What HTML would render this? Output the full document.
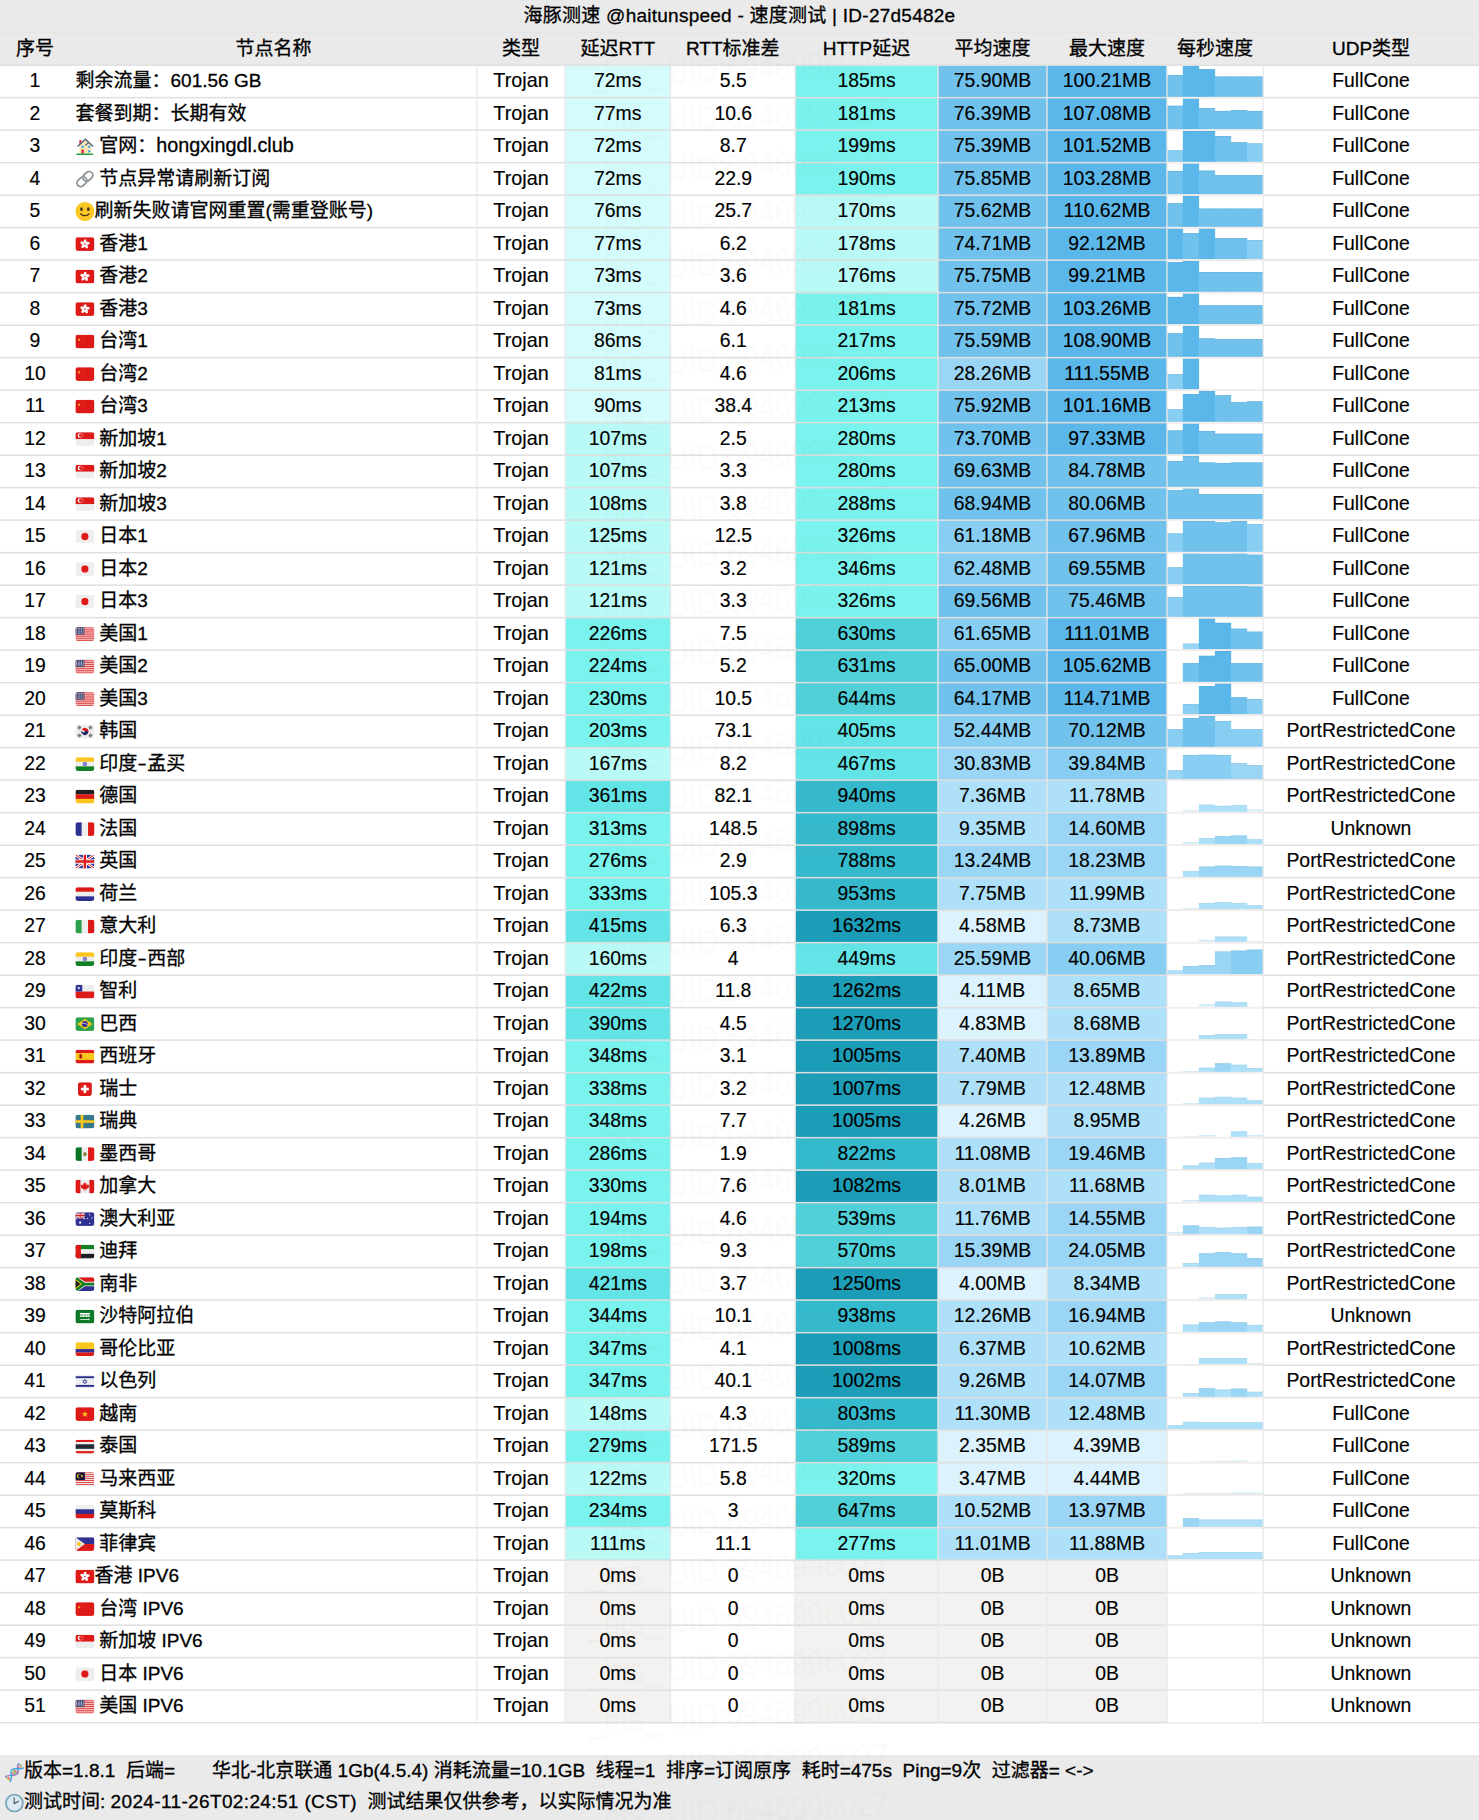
<!DOCTYPE html>
<html lang="zh-CN"><head><meta charset="utf-8"><title>海豚测速</title>
<style>
html,body{margin:0;padding:0;background:#fff;}
body{width:1479px;height:1820px;position:relative;overflow:hidden;font-family:"Liberation Sans","Noto Sans CJK SC",sans-serif;font-size:19px;color:#000;}
#bg{position:absolute;left:0;top:0;width:1479px;height:1820px;}
.r{position:absolute;left:0;width:1479px;height:32.5px;line-height:29.7px;white-space:nowrap;-webkit-text-stroke:0.3px #000;}
.r span{position:absolute;top:0;height:32.5px;text-align:center;}
.hd{line-height:31px}
.hy{font-style:normal;display:inline-block;width:10px;text-align:center;transform:scaleX(1.45)}
.la{font-style:normal;font-size:19.8px}
.l{font-size:20.2px;transform:scaleX(.96);line-height:30.9px;-webkit-text-stroke:0.16px #000}
.c2.l{transform:scaleX(.98)}
.c0{left:0;width:70px}.c1{left:75.5px;text-align:left!important;line-height:31.5px}.c1i{left:99.2px;text-align:left!important;line-height:31.5px}.c1s{left:94.5px;text-align:left!important;line-height:31.5px}
.c2{left:477px;width:88px}.c3{left:565px;width:105.5px}.c4{left:670.5px;width:124.5px}.c5{left:795px;width:143px}
.c6{left:938px;width:109px}.c7{left:1047px;width:120px}.c8{left:1167px;width:96px}.c9{left:1263px;width:216px}
.h1{left:70px;width:407px}
.t{position:absolute;left:0;top:0;width:1479px;height:32.5px;line-height:31px;text-align:center;white-space:nowrap;letter-spacing:.25px;-webkit-text-stroke:0.3px #000;}
.ft{position:absolute;left:24px;height:32.5px;line-height:31px;white-space:pre;-webkit-text-stroke:0.3px #000;}
.wm{position:absolute;left:588px;width:300px;height:40px;line-height:40px;font-size:34px;white-space:nowrap;transform-origin:0 50%;transform:rotate(-2.5deg) scaleX(.86);color:rgba(160,160,160,.03);-webkit-text-stroke:0.7px rgba(140,140,140,.07)}
</style></head><body>
<svg id="bg" width="1479" height="1820" viewBox="0 0 1479 1820"><defs><clipPath id="fc"><rect width="36" height="26" rx="4.6" ry="4.6"/></clipPath><symbol id="f-HK" viewBox="0 0 36 26"><g clip-path="url(#fc)"><rect width="36" height="26" fill="#DD1A17"/><g fill="#fff"><ellipse cx="18" cy="8.2" rx="2.7" ry="4.6" transform="rotate(0 18 13) rotate(18 18 8.2)"/><ellipse cx="18" cy="8.2" rx="2.7" ry="4.6" transform="rotate(72 18 13) rotate(18 18 8.2)"/><ellipse cx="18" cy="8.2" rx="2.7" ry="4.6" transform="rotate(144 18 13) rotate(18 18 8.2)"/><ellipse cx="18" cy="8.2" rx="2.7" ry="4.6" transform="rotate(216 18 13) rotate(18 18 8.2)"/><ellipse cx="18" cy="8.2" rx="2.7" ry="4.6" transform="rotate(288 18 13) rotate(18 18 8.2)"/></g><circle cx="18" cy="13" r="1.3" fill="#DD1A17"/></g></symbol><symbol id="f-CN" viewBox="0 0 36 26"><g clip-path="url(#fc)"><rect width="36" height="26" fill="#DD1A17"/><polygon fill="#FAC51C" points="7.00,6.50 7.70,8.64 9.95,8.64 8.13,9.97 8.82,12.11 7.00,10.78 5.18,12.11 5.87,9.97 4.05,8.64 6.30,8.64"/><polygon fill="#F08A50" points="12.50,3.40 12.77,4.23 13.64,4.23 12.94,4.74 13.21,5.57 12.50,5.06 11.79,5.57 12.06,4.74 11.36,4.23 12.23,4.23"/><polygon fill="#F08A50" points="15.00,6.20 15.27,7.03 16.14,7.03 15.44,7.54 15.71,8.37 15.00,7.86 14.29,8.37 14.56,7.54 13.86,7.03 14.73,7.03"/><polygon fill="#F08A50" points="15.00,9.80 15.27,10.63 16.14,10.63 15.44,11.14 15.71,11.97 15.00,11.46 14.29,11.97 14.56,11.14 13.86,10.63 14.73,10.63"/><polygon fill="#F08A50" points="12.50,12.80 12.77,13.63 13.64,13.63 12.94,14.14 13.21,14.97 12.50,14.46 11.79,14.97 12.06,14.14 11.36,13.63 12.23,13.63"/></g></symbol><symbol id="f-SG" viewBox="0 0 36 26"><g clip-path="url(#fc)"><rect width="36" height="26" fill="#EEEEEE"/><rect width="36" height="13" fill="#DD1A17"/><circle cx="9" cy="6.5" r="4.6" fill="#fff"/><circle cx="11" cy="6.5" r="4" fill="#DD1A17"/><polygon fill="#fff" points="13.00,2.50 13.25,3.26 14.05,3.26 13.40,3.73 13.65,4.49 13.00,4.02 12.35,4.49 12.60,3.73 11.95,3.26 12.75,3.26"/><polygon fill="#fff" points="10.60,4.30 10.85,5.06 11.65,5.06 11.00,5.53 11.25,6.29 10.60,5.82 9.95,6.29 10.20,5.53 9.55,5.06 10.35,5.06"/><polygon fill="#fff" points="15.40,4.30 15.65,5.06 16.45,5.06 15.80,5.53 16.05,6.29 15.40,5.82 14.75,6.29 15.00,5.53 14.35,5.06 15.15,5.06"/><polygon fill="#fff" points="11.50,7.30 11.75,8.06 12.55,8.06 11.90,8.53 12.15,9.29 11.50,8.82 10.85,9.29 11.10,8.53 10.45,8.06 11.25,8.06"/><polygon fill="#fff" points="14.50,7.30 14.75,8.06 15.55,8.06 14.90,8.53 15.15,9.29 14.50,8.82 13.85,9.29 14.10,8.53 13.45,8.06 14.25,8.06"/></g></symbol><symbol id="f-JP" viewBox="0 0 36 26"><g clip-path="url(#fc)"><rect width="36" height="26" fill="#EEEEEE"/><circle cx="18" cy="13" r="7.6" fill="#DD1A17" stroke="#fff" stroke-width="1.4"/></g></symbol><symbol id="f-US" viewBox="0 0 36 26"><g clip-path="url(#fc)"><rect width="36" height="26" fill="#F6C4C4"/><rect y="0.00" width="36" height="2" fill="#E04848"/><rect y="4.00" width="36" height="2" fill="#E04848"/><rect y="8.00" width="36" height="2" fill="#E04848"/><rect y="12.00" width="36" height="2" fill="#E04848"/><rect y="16.00" width="36" height="2" fill="#E04848"/><rect y="20.00" width="36" height="2" fill="#E04848"/><rect y="24.00" width="36" height="2" fill="#E04848"/><rect width="17" height="14" fill="#3A4070"/><circle cx="2.2" cy="2.3" r="0.95" fill="#C9CCD8"/><circle cx="5.3" cy="2.3" r="0.95" fill="#C9CCD8"/><circle cx="8.5" cy="2.3" r="0.95" fill="#C9CCD8"/><circle cx="11.6" cy="2.3" r="0.95" fill="#C9CCD8"/><circle cx="14.8" cy="2.3" r="0.95" fill="#C9CCD8"/><circle cx="2.2" cy="4.7" r="0.95" fill="#C9CCD8"/><circle cx="5.3" cy="4.7" r="0.95" fill="#C9CCD8"/><circle cx="8.5" cy="4.7" r="0.95" fill="#C9CCD8"/><circle cx="11.6" cy="4.7" r="0.95" fill="#C9CCD8"/><circle cx="14.8" cy="4.7" r="0.95" fill="#C9CCD8"/><circle cx="2.2" cy="7.0" r="0.95" fill="#C9CCD8"/><circle cx="5.3" cy="7.0" r="0.95" fill="#C9CCD8"/><circle cx="8.5" cy="7.0" r="0.95" fill="#C9CCD8"/><circle cx="11.6" cy="7.0" r="0.95" fill="#C9CCD8"/><circle cx="14.8" cy="7.0" r="0.95" fill="#C9CCD8"/><circle cx="2.2" cy="9.3" r="0.95" fill="#C9CCD8"/><circle cx="5.3" cy="9.3" r="0.95" fill="#C9CCD8"/><circle cx="8.5" cy="9.3" r="0.95" fill="#C9CCD8"/><circle cx="11.6" cy="9.3" r="0.95" fill="#C9CCD8"/><circle cx="14.8" cy="9.3" r="0.95" fill="#C9CCD8"/><circle cx="2.2" cy="11.7" r="0.95" fill="#C9CCD8"/><circle cx="5.3" cy="11.7" r="0.95" fill="#C9CCD8"/><circle cx="8.5" cy="11.7" r="0.95" fill="#C9CCD8"/><circle cx="11.6" cy="11.7" r="0.95" fill="#C9CCD8"/><circle cx="14.8" cy="11.7" r="0.95" fill="#C9CCD8"/></g></symbol><symbol id="f-KR" viewBox="0 0 36 26"><g clip-path="url(#fc)"><rect width="36" height="26" fill="#EEEEEE"/><path d="M12.4 9.3a6.7 6.7 0 0 1 11.2 7.4z" fill="#DD1A17"/><path d="M12.4 9.3a6.7 6.7 0 0 0 11.2 7.4a3.35 3.35 0 0 0-5.6-3.7a3.35 3.35 0 0 1-5.6-3.7z" fill="#1B2A5E"/><g transform="rotate(-56 7.5 5.5)" fill="#292F33"><rect x="4.5" y="2.9" width="6" height="1.2"/><rect x="4.5" y="4.9" width="6" height="1.2"/><rect x="4.5" y="6.9" width="6" height="1.2"/></g><g transform="rotate(-56 28.5 20.5)" fill="#292F33"><rect x="25.5" y="17.9" width="6" height="1.2"/><rect x="25.5" y="19.9" width="6" height="1.2"/><rect x="25.5" y="21.9" width="6" height="1.2"/></g><g transform="rotate(56 28.5 5.5)" fill="#292F33"><rect x="25.5" y="2.9" width="6" height="1.2"/><rect x="25.5" y="4.9" width="6" height="1.2"/><rect x="25.5" y="6.9" width="6" height="1.2"/></g><g transform="rotate(56 7.5 20.5)" fill="#292F33"><rect x="4.5" y="17.9" width="6" height="1.2"/><rect x="4.5" y="19.9" width="6" height="1.2"/><rect x="4.5" y="21.9" width="6" height="1.2"/></g></g></symbol><symbol id="f-IN" viewBox="0 0 36 26"><g clip-path="url(#fc)"><rect y="0.00" width="36" height="8.97" fill="#FAC51C"/><rect y="8.67" width="36" height="8.97" fill="#EEEEEE"/><rect y="17.33" width="36" height="8.97" fill="#118025"/><circle cx="18" cy="13" r="4.3" fill="#8080D0"/></g></symbol><symbol id="f-DE" viewBox="0 0 36 26"><g clip-path="url(#fc)"><rect y="0.00" width="36" height="8.97" fill="#1A2024"/><rect y="8.67" width="36" height="8.97" fill="#DD1A17"/><rect y="17.33" width="36" height="8.97" fill="#FAC51C"/></g></symbol><symbol id="f-FR" viewBox="0 0 36 26"><g clip-path="url(#fc)"><rect x="0.00" width="12.30" height="26" fill="#2E3192"/><rect x="12.00" width="12.30" height="26" fill="#EEEEEE"/><rect x="24.00" width="12.30" height="26" fill="#DD1A17"/></g></symbol><symbol id="f-GB" viewBox="0 0 36 26"><g clip-path="url(#fc)"><rect width="36" height="26" fill="#2E3192"/><path d="M0 0L36 26M36 0L0 26" stroke="#fff" stroke-width="5.2"/><path d="M0 0L36 26M36 0L0 26" stroke="#DD1A17" stroke-width="1.8"/><path d="M18 0V26M0 13H36" stroke="#fff" stroke-width="8"/><path d="M18 0V26M0 13H36" stroke="#DD1A17" stroke-width="4.6"/></g></symbol><symbol id="f-NL" viewBox="0 0 36 26"><g clip-path="url(#fc)"><rect y="0.00" width="36" height="8.97" fill="#DD1A17"/><rect y="8.67" width="36" height="8.97" fill="#EEEEEE"/><rect y="17.33" width="36" height="8.97" fill="#2E3192"/></g></symbol><symbol id="f-IT" viewBox="0 0 36 26"><g clip-path="url(#fc)"><rect x="0.00" width="12.30" height="26" fill="#2DA04B"/><rect x="12.00" width="12.30" height="26" fill="#EEEEEE"/><rect x="24.00" width="12.30" height="26" fill="#DD1A17"/></g></symbol><symbol id="f-CL" viewBox="0 0 36 26"><g clip-path="url(#fc)"><rect width="36" height="26" fill="#EEEEEE"/><rect y="13" width="36" height="13" fill="#DD1A17"/><rect width="13" height="13" fill="#2E3192"/><polygon fill="#fff" points="6.50,3.10 7.26,5.45 9.73,5.45 7.74,6.90 8.50,9.25 6.50,7.80 4.50,9.25 5.26,6.90 3.27,5.45 5.74,5.45"/></g></symbol><symbol id="f-BR" viewBox="0 0 36 26"><g clip-path="url(#fc)"><rect width="36" height="26" fill="#2DA04B"/><polygon points="18,3 32.5,13 18,23 3.5,13" fill="#FAC51C"/><circle cx="18" cy="13" r="5.6" fill="#2E3192"/><path d="M12.6 11.6Q18 10.6 23.3 14.4" stroke="#fff" stroke-width="1.2" fill="none"/></g></symbol><symbol id="f-ES" viewBox="0 0 36 26"><g clip-path="url(#fc)"><rect y="0.00" width="36" height="6.80" fill="#DD1A17"/><rect y="6.50" width="36" height="13.30" fill="#FAC51C"/><rect y="19.50" width="36" height="6.80" fill="#DD1A17"/><rect x="7.5" y="9" width="5" height="7.5" rx="1.6" fill="#AD1519"/><rect x="8.6" y="7.6" width="2.8" height="2" fill="#AD1519"/><rect x="6" y="10" width="1.2" height="6" fill="#C8B100"/><rect x="12.8" y="10" width="1.2" height="6" fill="#C8B100"/></g></symbol><symbol id="f-CH" viewBox="0 0 36 26"><rect x="5" width="26" height="26" rx="4" fill="#DD1A17"/><rect x="15.5" y="5.5" width="5" height="15" fill="#fff"/><rect x="10.5" y="10.5" width="15" height="5" fill="#fff"/></symbol><symbol id="f-SE" viewBox="0 0 36 26"><g clip-path="url(#fc)"><rect width="36" height="26" fill="#34788A"/><rect x="10" width="5" height="26" fill="#FAC51C"/><rect y="10.5" width="36" height="5" fill="#FAC51C"/></g></symbol><symbol id="f-MX" viewBox="0 0 36 26"><g clip-path="url(#fc)"><rect x="0.00" width="12.30" height="26" fill="#077521"/><rect x="12.00" width="12.30" height="26" fill="#EEEEEE"/><rect x="24.00" width="12.30" height="26" fill="#DD1A17"/><circle cx="18" cy="13" r="3.6" fill="#A6A65A"/><circle cx="18" cy="12.3" r="2.1" fill="#8C5B2F"/><path d="M14.6 15.2Q18 18.2 21.4 15.2" stroke="#5C913B" stroke-width="1.1" fill="none"/></g></symbol><symbol id="f-CA" viewBox="0 0 36 26"><g clip-path="url(#fc)"><rect width="36" height="26" fill="#EEEEEE"/><rect width="9.5" height="26" fill="#DD1A17"/><rect x="26.5" width="9.5" height="26" fill="#DD1A17"/><path fill="#DD1A17" d="M18 4.5l1.7 3.2 1.9-1 -0.9 4.6 2.4-2.5 0.5 1.4 2.7-0.5 -1.1 3.3 1.1 0.7 -4.3 3.5 0.5 1.6 -4 -0.6 v3.6 h-1 v-3.6 l-4 0.6 0.5-1.6 -4.3-3.5 1.1-0.7 -1.1-3.3 2.7 0.5 0.5-1.4 2.4 2.5 -0.9-4.6 1.9 1z"/></g></symbol><symbol id="f-AU" viewBox="0 0 36 26"><g clip-path="url(#fc)"><rect width="36" height="26" fill="#2E3192"/><g><path d="M0 0L18 13M18 0L0 13" stroke="#fff" stroke-width="2.6"/><path d="M0 0L18 13M18 0L0 13" stroke="#DD1A17" stroke-width="0.9"/><path d="M9 0V13M0 6.5H18" stroke="#fff" stroke-width="4"/><path d="M9 0V13M0 6.5H18" stroke="#DD1A17" stroke-width="2.2"/></g><polygon fill="#fff" points="9.00,16.50 9.88,18.29 11.85,18.57 10.43,19.96 10.76,21.93 9.00,21.00 7.24,21.93 7.57,19.96 6.15,18.57 8.12,18.29"/><polygon fill="#fff" points="27.00,3.30 27.50,4.31 28.62,4.47 27.81,5.26 28.00,6.38 27.00,5.85 26.00,6.38 26.19,5.26 25.38,4.47 26.50,4.31"/><polygon fill="#fff" points="31.50,8.80 32.00,9.81 33.12,9.97 32.31,10.76 32.50,11.88 31.50,11.35 30.50,11.88 30.69,10.76 29.88,9.97 31.00,9.81"/><polygon fill="#fff" points="23.00,10.30 23.50,11.31 24.62,11.47 23.81,12.26 24.00,13.38 23.00,12.85 22.00,13.38 22.19,12.26 21.38,11.47 22.50,11.31"/><polygon fill="#fff" points="27.00,19.30 27.50,20.31 28.62,20.47 27.81,21.26 28.00,22.38 27.00,21.85 26.00,22.38 26.19,21.26 25.38,20.47 26.50,20.31"/><polygon fill="#fff" points="29.50,13.60 29.70,14.22 30.36,14.22 29.83,14.61 30.03,15.23 29.50,14.84 28.97,15.23 29.17,14.61 28.64,14.22 29.30,14.22"/></g></symbol><symbol id="f-AE" viewBox="0 0 36 26"><g clip-path="url(#fc)"><rect y="0.00" width="36" height="8.97" fill="#118025"/><rect y="8.67" width="36" height="8.97" fill="#EEEEEE"/><rect y="17.33" width="36" height="8.97" fill="#1A2024"/><rect width="10.5" height="26" fill="#DD1A17"/></g></symbol><symbol id="f-ZA" viewBox="0 0 36 26"><g clip-path="url(#fc)"><rect width="36" height="26" fill="#EEEEEE"/><path d="M5 0H36V8.6H18z" fill="#DD1A17"/><path d="M5 26H36V17.4H18z" fill="#2E3192"/><path d="M0 0H3.2L17.2 10.4H36V15.6H17.2L3.2 26H0z" fill="#118025"/><path d="M0 3.3L12.4 13 0 22.7z" fill="#FAC51C"/><path d="M0 5.6L9.6 13 0 20.4z" fill="#1A2024"/></g></symbol><symbol id="f-SA" viewBox="0 0 36 26"><g clip-path="url(#fc)"><rect width="36" height="26" fill="#0A7A2A"/><g fill="#fff"><rect x="8" y="6.5" width="20" height="1.6" rx=".8"/><rect x="9" y="9.3" width="18" height="1.6" rx=".8"/><rect x="8" y="12" width="20" height="1.5" rx=".7"/><rect x="10" y="6" width="1.3" height="7"/><rect x="15" y="6" width="1.3" height="7"/><rect x="20.5" y="6" width="1.3" height="7"/><rect x="25" y="6" width="1.3" height="7"/><rect x="9" y="17.6" width="18" height="1.3" rx=".6"/><rect x="24" y="16.6" width="1.2" height="3.3"/></g></g></symbol><symbol id="f-CO" viewBox="0 0 36 26"><g clip-path="url(#fc)"><rect y="0.00" width="36" height="13.30" fill="#FAC51C"/><rect y="13.00" width="36" height="6.80" fill="#2E3192"/><rect y="19.50" width="36" height="6.80" fill="#DD1A17"/></g></symbol><symbol id="f-IL" viewBox="0 0 36 26"><g clip-path="url(#fc)"><rect width="36" height="26" fill="#EEEEEE"/><rect y="3" width="36" height="3.6" fill="#2A2E8A"/><rect y="19.4" width="36" height="3.6" fill="#2A2E8A"/><polygon points="18,8.6 21.8,15.2 14.2,15.2" fill="none" stroke="#2A2E8A" stroke-width="1"/><polygon points="18,17.4 21.8,10.8 14.2,10.8" fill="none" stroke="#2A2E8A" stroke-width="1"/></g></symbol><symbol id="f-VN" viewBox="0 0 36 26"><g clip-path="url(#fc)"><rect width="36" height="26" fill="#DD1A17"/><polygon fill="#FAC51C" points="18.00,6.80 19.48,11.36 24.28,11.36 20.40,14.18 21.88,18.74 18.00,15.92 14.12,18.74 15.60,14.18 11.72,11.36 16.52,11.36"/></g></symbol><symbol id="f-TH" viewBox="0 0 36 26"><g clip-path="url(#fc)"><rect y="0.00" width="36" height="4.63" fill="#DD1A17"/><rect y="4.33" width="36" height="4.63" fill="#EEEEEE"/><rect y="8.67" width="36" height="8.97" fill="#1F2A33"/><rect y="17.33" width="36" height="4.63" fill="#EEEEEE"/><rect y="21.67" width="36" height="4.63" fill="#DD1A17"/></g></symbol><symbol id="f-MY" viewBox="0 0 36 26"><g clip-path="url(#fc)"><rect width="36" height="26" fill="#EEEEEE"/><rect y="0.00" width="36" height="1.86" fill="#E04848"/><rect y="3.71" width="36" height="1.86" fill="#E04848"/><rect y="7.43" width="36" height="1.86" fill="#E04848"/><rect y="11.14" width="36" height="1.86" fill="#E04848"/><rect y="14.86" width="36" height="1.86" fill="#E04848"/><rect y="18.57" width="36" height="1.86" fill="#E04848"/><rect y="22.28" width="36" height="1.86" fill="#E04848"/><rect width="18" height="14.9" fill="#14143A"/><circle cx="7.3" cy="7.4" r="4.6" fill="#FAC51C"/><circle cx="8.9" cy="7.4" r="3.9" fill="#14143A"/><polygon fill="#FAC51C" points="12.40,4.30 13.22,6.27 15.35,6.44 13.73,7.83 14.22,9.91 12.40,8.79 10.58,9.91 11.07,7.83 9.45,6.44 11.58,6.27"/></g></symbol><symbol id="f-RU" viewBox="0 0 36 26"><g clip-path="url(#fc)"><rect y="0.00" width="36" height="8.97" fill="#EEEEEE"/><rect y="8.67" width="36" height="8.97" fill="#2E3192"/><rect y="17.33" width="36" height="8.97" fill="#DD1A17"/></g></symbol><symbol id="f-PH" viewBox="0 0 36 26"><g clip-path="url(#fc)"><rect width="36" height="13" fill="#2E3192"/><rect y="13" width="36" height="13" fill="#DD1A17"/><polygon points="0,0 18,13 0,26" fill="#EEEEEE"/><circle cx="6.6" cy="13" r="3.5" fill="#FAC51C"/><polygon fill="#FAC51C" points="7.00,8.40 8.49,10.95 11.37,11.58 9.41,13.78 9.70,16.72 7.00,15.53 4.30,16.72 4.59,13.78 2.63,11.58 5.51,10.95"/><polygon fill="#FAC51C" points="2.40,3.40 2.67,4.23 3.54,4.23 2.84,4.74 3.11,5.57 2.40,5.06 1.69,5.57 1.96,4.74 1.26,4.23 2.13,4.23"/><polygon fill="#FAC51C" points="2.40,20.20 2.67,21.03 3.54,21.03 2.84,21.54 3.11,22.37 2.40,21.86 1.69,22.37 1.96,21.54 1.26,21.03 2.13,21.03"/><polygon fill="#FAC51C" points="15.20,11.80 15.47,12.63 16.34,12.63 15.64,13.14 15.91,13.97 15.20,13.46 14.49,13.97 14.76,13.14 14.06,12.63 14.93,12.63"/></g></symbol><symbol id="e-house" viewBox="0 0 36 36"><rect x="7" y="14" width="24" height="18" fill="#FFE8B6"/><polygon points="19,4 7,16 31,16" fill="#FFE8B6"/><rect x="7" y="5" width="4" height="8" fill="#DD2E44"/><path d="M3.5 18L19 3.5 34.5 18" stroke="#55697A" stroke-width="3" fill="none" stroke-linejoin="miter"/><path d="M19 16L26 9.5" stroke="#55697A" stroke-width="2.5"/><rect x="11" y="16" width="5" height="5" rx="1.5" fill="#55ACEE"/><rect x="24" y="16" width="5" height="5" rx="1.5" fill="#55ACEE"/><rect x="24" y="25" width="5" height="5" rx="1.5" fill="#55ACEE"/><rect x="11" y="24" width="5" height="8" rx="1" fill="#DD2E44"/><rect x="1" y="32" width="34" height="3" rx="1.5" fill="#1E9E3E"/></symbol><symbol id="e-link" viewBox="0 0 36 36"><g transform="rotate(-42 18 18)" fill="none" stroke="#8C959B" stroke-width="3.2"><rect x="1.5" y="11.5" width="19" height="13" rx="6.5"/><rect x="15.5" y="11.5" width="19" height="13" rx="6.5"/></g></symbol><symbol id="e-smile" viewBox="0 0 36 36"><circle cx="18" cy="18" r="18" fill="#FBC825"/><ellipse cx="11.5" cy="13.5" rx="2.5" ry="3.5" fill="#4A3420"/><ellipse cx="24.5" cy="13.5" rx="2.5" ry="3.5" fill="#4A3420"/><path d="M10 22.5Q18 29 26 22.5" stroke="#4A3420" stroke-width="2.6" fill="none" stroke-linecap="round"/></symbol><symbol id="e-dna" viewBox="0 0 36 36"><g stroke-width="2.2" stroke-linecap="round"><path d="M27.5 5l4 4" stroke="#F4ABBA"/><path d="M29.5 8.5l2.5 1.5" stroke="#FFD983"/><path d="M26 8.5l3.5 3" stroke="#E8675B"/><path d="M28 4l3 2" stroke="#77B255"/><path d="M15.5 15l5.5 6" stroke="#77B255"/><path d="M18 13.5l5 5.5" stroke="#E8675B"/><path d="M13.5 18l4.5 5" stroke="#E8675B"/><path d="M13 21.5l3 3" stroke="#FFCC4D"/><path d="M3.5 28l4 4" stroke="#77B255"/><path d="M6 27l3.5 4.5" stroke="#E8675B"/><path d="M5 31l3 2.5" stroke="#FFD983"/></g><g fill="none" stroke-width="2.7" stroke-linecap="round"><path d="M26 1.2C22 6 23 9.5 24.3 13.5S25.5 21.5 18 23S6 22.5 1.2 26" stroke="#8A7BD0"/><path d="M35 9.8C30 13 22 10.2 16 11.6S10.8 16 11.5 20S13 30.5 10 34.8" stroke="#41A8E0"/></g></symbol><symbol id="e-clock" viewBox="0 0 36 36"><circle cx="18" cy="18" r="16" fill="#DCE9F2" stroke="#7DA7BC" stroke-width="3.6"/><path d="M17.6 8V19L26 14.6" stroke="#555C60" stroke-width="2.2" fill="none" stroke-linecap="round" stroke-linejoin="round"/></symbol></defs><rect width="1479" height="1820" fill="#fff"/><rect width="1479" height="65.5" fill="#EAEAEA"/><rect y="1755" width="1479" height="65" fill="#EAEAEA"/><rect x="565.5" y="65.3" width="104.7" height="31.9" fill="#D5FCFC" stroke="#C6EAEA" stroke-width=".6"/><rect x="795.5" y="65.3" width="142.2" height="31.9" fill="#7AF3EE" stroke="#71E1DD" stroke-width=".6"/><rect x="938.3" y="65.3" width="108.4" height="31.9" fill="#70C1EC" stroke="#68B3DB" stroke-width=".6"/><rect x="1047.3" y="65.3" width="119.4" height="31.9" fill="#5BB7EA" stroke="#54AAD9" stroke-width=".6"/><rect x="1166.8" y="75.02" width="16.28" height="22.08" fill="#70C1EC"/><rect x="1166.8" y="75.02" width="16.28" height=".6" fill="#68B3DB"/><rect x="1182.83" y="66" width="16.28" height="31.1" fill="#5BB7EA"/><rect x="1182.83" y="66" width="16.28" height=".6" fill="#54AAD9"/><rect x="1198.86" y="69.27" width="16.28" height="27.83" fill="#5BB7EA"/><rect x="1198.86" y="69.27" width="16.28" height=".6" fill="#54AAD9"/><rect x="1214.89" y="76.57" width="16.28" height="20.53" fill="#70C1EC"/><rect x="1214.89" y="76.57" width="16.28" height=".6" fill="#68B3DB"/><rect x="1230.92" y="76.57" width="16.28" height="20.53" fill="#70C1EC"/><rect x="1230.92" y="76.57" width="16.28" height=".6" fill="#68B3DB"/><rect x="1246.95" y="76.57" width="16.28" height="20.53" fill="#70C1EC"/><rect x="1246.95" y="76.57" width="16.28" height=".6" fill="#68B3DB"/><rect x="565.5" y="97.8" width="104.7" height="31.9" fill="#D5FCFC" stroke="#C6EAEA" stroke-width=".6"/><rect x="795.5" y="97.8" width="142.2" height="31.9" fill="#7AF3EE" stroke="#71E1DD" stroke-width=".6"/><rect x="938.3" y="97.8" width="108.4" height="31.9" fill="#70C1EC" stroke="#68B3DB" stroke-width=".6"/><rect x="1047.3" y="97.8" width="119.4" height="31.9" fill="#5BB7EA" stroke="#54AAD9" stroke-width=".6"/><rect x="1166.8" y="105.81" width="16.28" height="23.79" fill="#70C1EC"/><rect x="1166.8" y="105.81" width="16.28" height=".6" fill="#68B3DB"/><rect x="1182.83" y="98.5" width="16.28" height="31.1" fill="#5BB7EA"/><rect x="1182.83" y="98.5" width="16.28" height=".6" fill="#54AAD9"/><rect x="1198.86" y="108.14" width="16.28" height="21.46" fill="#70C1EC"/><rect x="1198.86" y="108.14" width="16.28" height=".6" fill="#68B3DB"/><rect x="1214.89" y="110.94" width="16.28" height="18.66" fill="#70C1EC"/><rect x="1214.89" y="110.94" width="16.28" height=".6" fill="#68B3DB"/><rect x="1230.92" y="110.01" width="16.28" height="19.59" fill="#70C1EC"/><rect x="1230.92" y="110.01" width="16.28" height=".6" fill="#68B3DB"/><rect x="1246.95" y="110.94" width="16.28" height="18.66" fill="#70C1EC"/><rect x="1246.95" y="110.94" width="16.28" height=".6" fill="#68B3DB"/><rect x="565.5" y="130.3" width="104.7" height="31.9" fill="#D5FCFC" stroke="#C6EAEA" stroke-width=".6"/><rect x="795.5" y="130.3" width="142.2" height="31.9" fill="#7AF3EE" stroke="#71E1DD" stroke-width=".6"/><rect x="938.3" y="130.3" width="108.4" height="31.9" fill="#70C1EC" stroke="#68B3DB" stroke-width=".6"/><rect x="1047.3" y="130.3" width="119.4" height="31.9" fill="#5BB7EA" stroke="#54AAD9" stroke-width=".6"/><rect x="1166.8" y="150.28" width="16.28" height="11.82" fill="#87CEF2"/><rect x="1166.8" y="150.28" width="16.28" height=".6" fill="#7DBFE1"/><rect x="1182.83" y="131" width="16.28" height="31.1" fill="#5BB7EA"/><rect x="1182.83" y="131" width="16.28" height=".6" fill="#54AAD9"/><rect x="1198.86" y="131" width="16.28" height="31.1" fill="#5BB7EA"/><rect x="1198.86" y="131" width="16.28" height=".6" fill="#54AAD9"/><rect x="1214.89" y="135.98" width="16.28" height="26.12" fill="#70C1EC"/><rect x="1214.89" y="135.98" width="16.28" height=".6" fill="#68B3DB"/><rect x="1230.92" y="142.2" width="16.28" height="19.9" fill="#70C1EC"/><rect x="1230.92" y="142.2" width="16.28" height=".6" fill="#68B3DB"/><rect x="1246.95" y="143.44" width="16.28" height="18.66" fill="#87CEF2"/><rect x="1246.95" y="143.44" width="16.28" height=".6" fill="#7DBFE1"/><rect x="565.5" y="162.8" width="104.7" height="31.9" fill="#D5FCFC" stroke="#C6EAEA" stroke-width=".6"/><rect x="795.5" y="162.8" width="142.2" height="31.9" fill="#7AF3EE" stroke="#71E1DD" stroke-width=".6"/><rect x="938.3" y="162.8" width="108.4" height="31.9" fill="#70C1EC" stroke="#68B3DB" stroke-width=".6"/><rect x="1047.3" y="162.8" width="119.4" height="31.9" fill="#5BB7EA" stroke="#54AAD9" stroke-width=".6"/><rect x="1166.8" y="170.96" width="16.28" height="23.64" fill="#70C1EC"/><rect x="1166.8" y="170.96" width="16.28" height=".6" fill="#68B3DB"/><rect x="1182.83" y="163.5" width="16.28" height="31.1" fill="#5BB7EA"/><rect x="1182.83" y="163.5" width="16.28" height=".6" fill="#54AAD9"/><rect x="1198.86" y="170.65" width="16.28" height="23.95" fill="#70C1EC"/><rect x="1198.86" y="170.65" width="16.28" height=".6" fill="#68B3DB"/><rect x="1214.89" y="175.1" width="16.28" height="19.5" fill="#70C1EC"/><rect x="1214.89" y="175.1" width="16.28" height=".6" fill="#68B3DB"/><rect x="1230.92" y="175.1" width="16.28" height="19.5" fill="#70C1EC"/><rect x="1230.92" y="175.1" width="16.28" height=".6" fill="#68B3DB"/><rect x="1246.95" y="175.1" width="16.28" height="19.5" fill="#70C1EC"/><rect x="1246.95" y="175.1" width="16.28" height=".6" fill="#68B3DB"/><rect x="565.5" y="195.3" width="104.7" height="31.9" fill="#D5FCFC" stroke="#C6EAEA" stroke-width=".6"/><rect x="795.5" y="195.3" width="142.2" height="31.9" fill="#B9FAF7" stroke="#ACE8E5" stroke-width=".6"/><rect x="938.3" y="195.3" width="108.4" height="31.9" fill="#70C1EC" stroke="#68B3DB" stroke-width=".6"/><rect x="1047.3" y="195.3" width="119.4" height="31.9" fill="#5BB7EA" stroke="#54AAD9" stroke-width=".6"/><rect x="1166.8" y="203.28" width="16.28" height="23.82" fill="#70C1EC"/><rect x="1166.8" y="203.28" width="16.28" height=".6" fill="#68B3DB"/><rect x="1182.83" y="196" width="16.28" height="31.1" fill="#5BB7EA"/><rect x="1182.83" y="196" width="16.28" height=".6" fill="#54AAD9"/><rect x="1198.86" y="208.63" width="16.28" height="18.47" fill="#70C1EC"/><rect x="1198.86" y="208.63" width="16.28" height=".6" fill="#68B3DB"/><rect x="1214.89" y="208.63" width="16.28" height="18.47" fill="#70C1EC"/><rect x="1214.89" y="208.63" width="16.28" height=".6" fill="#68B3DB"/><rect x="1230.92" y="208.63" width="16.28" height="18.47" fill="#70C1EC"/><rect x="1230.92" y="208.63" width="16.28" height=".6" fill="#68B3DB"/><rect x="1246.95" y="208.63" width="16.28" height="18.47" fill="#70C1EC"/><rect x="1246.95" y="208.63" width="16.28" height=".6" fill="#68B3DB"/><rect x="565.5" y="227.8" width="104.7" height="31.9" fill="#D5FCFC" stroke="#C6EAEA" stroke-width=".6"/><rect x="795.5" y="227.8" width="142.2" height="31.9" fill="#B9FAF7" stroke="#ACE8E5" stroke-width=".6"/><rect x="938.3" y="227.8" width="108.4" height="31.9" fill="#70C1EC" stroke="#68B3DB" stroke-width=".6"/><rect x="1047.3" y="227.8" width="119.4" height="31.9" fill="#5BB7EA" stroke="#54AAD9" stroke-width=".6"/><rect x="1166.8" y="228.5" width="16.28" height="31.1" fill="#5BB7EA"/><rect x="1166.8" y="228.5" width="16.28" height=".6" fill="#54AAD9"/><rect x="1182.83" y="233.17" width="16.28" height="26.44" fill="#70C1EC"/><rect x="1182.83" y="233.17" width="16.28" height=".6" fill="#68B3DB"/><rect x="1198.86" y="228.5" width="16.28" height="31.1" fill="#5BB7EA"/><rect x="1198.86" y="228.5" width="16.28" height=".6" fill="#54AAD9"/><rect x="1214.89" y="238.05" width="16.28" height="21.55" fill="#70C1EC"/><rect x="1214.89" y="238.05" width="16.28" height=".6" fill="#68B3DB"/><rect x="1230.92" y="238.05" width="16.28" height="21.55" fill="#70C1EC"/><rect x="1230.92" y="238.05" width="16.28" height=".6" fill="#68B3DB"/><rect x="1246.95" y="240.01" width="16.28" height="19.59" fill="#87CEF2"/><rect x="1246.95" y="240.01" width="16.28" height=".6" fill="#7DBFE1"/><rect x="565.5" y="260.3" width="104.7" height="31.9" fill="#D5FCFC" stroke="#C6EAEA" stroke-width=".6"/><rect x="795.5" y="260.3" width="142.2" height="31.9" fill="#B9FAF7" stroke="#ACE8E5" stroke-width=".6"/><rect x="938.3" y="260.3" width="108.4" height="31.9" fill="#70C1EC" stroke="#68B3DB" stroke-width=".6"/><rect x="1047.3" y="260.3" width="119.4" height="31.9" fill="#5BB7EA" stroke="#54AAD9" stroke-width=".6"/><rect x="1166.8" y="262.09" width="16.28" height="30.01" fill="#5BB7EA"/><rect x="1166.8" y="262.09" width="16.28" height=".6" fill="#54AAD9"/><rect x="1182.83" y="261" width="16.28" height="31.1" fill="#5BB7EA"/><rect x="1182.83" y="261" width="16.28" height=".6" fill="#54AAD9"/><rect x="1198.86" y="272.01" width="16.28" height="20.09" fill="#70C1EC"/><rect x="1198.86" y="272.01" width="16.28" height=".6" fill="#68B3DB"/><rect x="1214.89" y="272.01" width="16.28" height="20.09" fill="#70C1EC"/><rect x="1214.89" y="272.01" width="16.28" height=".6" fill="#68B3DB"/><rect x="1230.92" y="272.01" width="16.28" height="20.09" fill="#70C1EC"/><rect x="1230.92" y="272.01" width="16.28" height=".6" fill="#68B3DB"/><rect x="1246.95" y="272.01" width="16.28" height="20.09" fill="#70C1EC"/><rect x="1246.95" y="272.01" width="16.28" height=".6" fill="#68B3DB"/><rect x="565.5" y="292.8" width="104.7" height="31.9" fill="#D5FCFC" stroke="#C6EAEA" stroke-width=".6"/><rect x="795.5" y="292.8" width="142.2" height="31.9" fill="#7AF3EE" stroke="#71E1DD" stroke-width=".6"/><rect x="938.3" y="292.8" width="108.4" height="31.9" fill="#70C1EC" stroke="#68B3DB" stroke-width=".6"/><rect x="1047.3" y="292.8" width="119.4" height="31.9" fill="#5BB7EA" stroke="#54AAD9" stroke-width=".6"/><rect x="1166.8" y="296.92" width="16.28" height="27.68" fill="#5BB7EA"/><rect x="1166.8" y="296.92" width="16.28" height=".6" fill="#54AAD9"/><rect x="1182.83" y="293.5" width="16.28" height="31.1" fill="#5BB7EA"/><rect x="1182.83" y="293.5" width="16.28" height=".6" fill="#54AAD9"/><rect x="1198.86" y="305.32" width="16.28" height="19.28" fill="#70C1EC"/><rect x="1198.86" y="305.32" width="16.28" height=".6" fill="#68B3DB"/><rect x="1214.89" y="305.32" width="16.28" height="19.28" fill="#70C1EC"/><rect x="1214.89" y="305.32" width="16.28" height=".6" fill="#68B3DB"/><rect x="1230.92" y="305.32" width="16.28" height="19.28" fill="#70C1EC"/><rect x="1230.92" y="305.32" width="16.28" height=".6" fill="#68B3DB"/><rect x="1246.95" y="305.32" width="16.28" height="19.28" fill="#70C1EC"/><rect x="1246.95" y="305.32" width="16.28" height=".6" fill="#68B3DB"/><rect x="565.5" y="325.3" width="104.7" height="31.9" fill="#D5FCFC" stroke="#C6EAEA" stroke-width=".6"/><rect x="795.5" y="325.3" width="142.2" height="31.9" fill="#7AF3EE" stroke="#71E1DD" stroke-width=".6"/><rect x="938.3" y="325.3" width="108.4" height="31.9" fill="#70C1EC" stroke="#68B3DB" stroke-width=".6"/><rect x="1047.3" y="325.3" width="119.4" height="31.9" fill="#5BB7EA" stroke="#54AAD9" stroke-width=".6"/><rect x="1166.8" y="333.28" width="16.28" height="23.82" fill="#70C1EC"/><rect x="1166.8" y="333.28" width="16.28" height=".6" fill="#68B3DB"/><rect x="1182.83" y="326" width="16.28" height="31.1" fill="#5BB7EA"/><rect x="1182.83" y="326" width="16.28" height=".6" fill="#54AAD9"/><rect x="1198.86" y="338.44" width="16.28" height="18.66" fill="#70C1EC"/><rect x="1198.86" y="338.44" width="16.28" height=".6" fill="#68B3DB"/><rect x="1214.89" y="339.12" width="16.28" height="17.98" fill="#70C1EC"/><rect x="1214.89" y="339.12" width="16.28" height=".6" fill="#68B3DB"/><rect x="1230.92" y="339.12" width="16.28" height="17.98" fill="#70C1EC"/><rect x="1230.92" y="339.12" width="16.28" height=".6" fill="#68B3DB"/><rect x="1246.95" y="339.12" width="16.28" height="17.98" fill="#70C1EC"/><rect x="1246.95" y="339.12" width="16.28" height=".6" fill="#68B3DB"/><rect x="565.5" y="357.8" width="104.7" height="31.9" fill="#D5FCFC" stroke="#C6EAEA" stroke-width=".6"/><rect x="795.5" y="357.8" width="142.2" height="31.9" fill="#7AF3EE" stroke="#71E1DD" stroke-width=".6"/><rect x="938.3" y="357.8" width="108.4" height="31.9" fill="#9AD5F5" stroke="#8FC6E3" stroke-width=".6"/><rect x="1047.3" y="357.8" width="119.4" height="31.9" fill="#5BB7EA" stroke="#54AAD9" stroke-width=".6"/><rect x="1166.8" y="374.05" width="16.28" height="15.55" fill="#87CEF2"/><rect x="1166.8" y="374.05" width="16.28" height=".6" fill="#7DBFE1"/><rect x="1182.83" y="358.5" width="16.28" height="31.1" fill="#5BB7EA"/><rect x="1182.83" y="358.5" width="16.28" height=".6" fill="#54AAD9"/><rect x="565.5" y="390.3" width="104.7" height="31.9" fill="#D5FCFC" stroke="#C6EAEA" stroke-width=".6"/><rect x="795.5" y="390.3" width="142.2" height="31.9" fill="#7AF3EE" stroke="#71E1DD" stroke-width=".6"/><rect x="938.3" y="390.3" width="108.4" height="31.9" fill="#70C1EC" stroke="#68B3DB" stroke-width=".6"/><rect x="1047.3" y="390.3" width="119.4" height="31.9" fill="#5BB7EA" stroke="#54AAD9" stroke-width=".6"/><rect x="1166.8" y="409.35" width="16.28" height="12.75" fill="#87CEF2"/><rect x="1166.8" y="409.35" width="16.28" height=".6" fill="#7DBFE1"/><rect x="1182.83" y="394.11" width="16.28" height="27.99" fill="#5BB7EA"/><rect x="1182.83" y="394.11" width="16.28" height=".6" fill="#54AAD9"/><rect x="1198.86" y="391" width="16.28" height="31.1" fill="#5BB7EA"/><rect x="1198.86" y="391" width="16.28" height=".6" fill="#54AAD9"/><rect x="1214.89" y="395.35" width="16.28" height="26.75" fill="#70C1EC"/><rect x="1214.89" y="395.35" width="16.28" height=".6" fill="#68B3DB"/><rect x="1230.92" y="402.2" width="16.28" height="19.9" fill="#70C1EC"/><rect x="1230.92" y="402.2" width="16.28" height=".6" fill="#68B3DB"/><rect x="1246.95" y="401.42" width="16.28" height="20.68" fill="#70C1EC"/><rect x="1246.95" y="401.42" width="16.28" height=".6" fill="#68B3DB"/><rect x="565.5" y="422.8" width="104.7" height="31.9" fill="#B9FAF7" stroke="#ACE8E5" stroke-width=".6"/><rect x="795.5" y="422.8" width="142.2" height="31.9" fill="#7AF3EE" stroke="#71E1DD" stroke-width=".6"/><rect x="938.3" y="422.8" width="108.4" height="31.9" fill="#70C1EC" stroke="#68B3DB" stroke-width=".6"/><rect x="1047.3" y="422.8" width="119.4" height="31.9" fill="#5BB7EA" stroke="#54AAD9" stroke-width=".6"/><rect x="1166.8" y="430.47" width="16.28" height="24.13" fill="#70C1EC"/><rect x="1166.8" y="430.47" width="16.28" height=".6" fill="#68B3DB"/><rect x="1182.83" y="423.5" width="16.28" height="31.1" fill="#5BB7EA"/><rect x="1182.83" y="423.5" width="16.28" height=".6" fill="#54AAD9"/><rect x="1198.86" y="430.96" width="16.28" height="23.64" fill="#70C1EC"/><rect x="1198.86" y="430.96" width="16.28" height=".6" fill="#68B3DB"/><rect x="1214.89" y="433.76" width="16.28" height="20.84" fill="#70C1EC"/><rect x="1214.89" y="433.76" width="16.28" height=".6" fill="#68B3DB"/><rect x="1230.92" y="433.76" width="16.28" height="20.84" fill="#70C1EC"/><rect x="1230.92" y="433.76" width="16.28" height=".6" fill="#68B3DB"/><rect x="1246.95" y="433.76" width="16.28" height="20.84" fill="#70C1EC"/><rect x="1246.95" y="433.76" width="16.28" height=".6" fill="#68B3DB"/><rect x="565.5" y="455.3" width="104.7" height="31.9" fill="#B9FAF7" stroke="#ACE8E5" stroke-width=".6"/><rect x="795.5" y="455.3" width="142.2" height="31.9" fill="#7AF3EE" stroke="#71E1DD" stroke-width=".6"/><rect x="938.3" y="455.3" width="108.4" height="31.9" fill="#70C1EC" stroke="#68B3DB" stroke-width=".6"/><rect x="1047.3" y="455.3" width="119.4" height="31.9" fill="#70C1EC" stroke="#68B3DB" stroke-width=".6"/><rect x="1166.8" y="460.98" width="16.28" height="26.12" fill="#70C1EC"/><rect x="1166.8" y="460.98" width="16.28" height=".6" fill="#68B3DB"/><rect x="1182.83" y="456" width="16.28" height="31.1" fill="#70C1EC"/><rect x="1182.83" y="456" width="16.28" height=".6" fill="#68B3DB"/><rect x="1198.86" y="462.53" width="16.28" height="24.57" fill="#70C1EC"/><rect x="1198.86" y="462.53" width="16.28" height=".6" fill="#68B3DB"/><rect x="1214.89" y="462.97" width="16.28" height="24.13" fill="#70C1EC"/><rect x="1214.89" y="462.97" width="16.28" height=".6" fill="#68B3DB"/><rect x="1230.92" y="462.53" width="16.28" height="24.57" fill="#70C1EC"/><rect x="1230.92" y="462.53" width="16.28" height=".6" fill="#68B3DB"/><rect x="1246.95" y="462.53" width="16.28" height="24.57" fill="#70C1EC"/><rect x="1246.95" y="462.53" width="16.28" height=".6" fill="#68B3DB"/><rect x="565.5" y="487.8" width="104.7" height="31.9" fill="#B9FAF7" stroke="#ACE8E5" stroke-width=".6"/><rect x="795.5" y="487.8" width="142.2" height="31.9" fill="#7AF3EE" stroke="#71E1DD" stroke-width=".6"/><rect x="938.3" y="487.8" width="108.4" height="31.9" fill="#70C1EC" stroke="#68B3DB" stroke-width=".6"/><rect x="1047.3" y="487.8" width="119.4" height="31.9" fill="#70C1EC" stroke="#68B3DB" stroke-width=".6"/><rect x="1166.8" y="490.18" width="16.28" height="29.42" fill="#70C1EC"/><rect x="1166.8" y="490.18" width="16.28" height=".6" fill="#68B3DB"/><rect x="1182.83" y="488.5" width="16.28" height="31.1" fill="#70C1EC"/><rect x="1182.83" y="488.5" width="16.28" height=".6" fill="#68B3DB"/><rect x="1198.86" y="494.1" width="16.28" height="25.5" fill="#70C1EC"/><rect x="1198.86" y="494.1" width="16.28" height=".6" fill="#68B3DB"/><rect x="1214.89" y="494.1" width="16.28" height="25.5" fill="#70C1EC"/><rect x="1214.89" y="494.1" width="16.28" height=".6" fill="#68B3DB"/><rect x="1230.92" y="494.1" width="16.28" height="25.5" fill="#70C1EC"/><rect x="1230.92" y="494.1" width="16.28" height=".6" fill="#68B3DB"/><rect x="1246.95" y="494.1" width="16.28" height="25.5" fill="#70C1EC"/><rect x="1246.95" y="494.1" width="16.28" height=".6" fill="#68B3DB"/><rect x="565.5" y="520.3" width="104.7" height="31.9" fill="#B9FAF7" stroke="#ACE8E5" stroke-width=".6"/><rect x="795.5" y="520.3" width="142.2" height="31.9" fill="#7AF3EE" stroke="#71E1DD" stroke-width=".6"/><rect x="938.3" y="520.3" width="108.4" height="31.9" fill="#87CEF2" stroke="#7DBFE1" stroke-width=".6"/><rect x="1047.3" y="520.3" width="119.4" height="31.9" fill="#70C1EC" stroke="#68B3DB" stroke-width=".6"/><rect x="1166.8" y="533.44" width="16.28" height="18.66" fill="#87CEF2"/><rect x="1166.8" y="533.44" width="16.28" height=".6" fill="#7DBFE1"/><rect x="1182.83" y="521" width="16.28" height="31.1" fill="#70C1EC"/><rect x="1182.83" y="521" width="16.28" height=".6" fill="#68B3DB"/><rect x="1198.86" y="521" width="16.28" height="31.1" fill="#70C1EC"/><rect x="1198.86" y="521" width="16.28" height=".6" fill="#68B3DB"/><rect x="1214.89" y="522.34" width="16.28" height="29.76" fill="#70C1EC"/><rect x="1214.89" y="522.34" width="16.28" height=".6" fill="#68B3DB"/><rect x="1230.92" y="521" width="16.28" height="31.1" fill="#70C1EC"/><rect x="1230.92" y="521" width="16.28" height=".6" fill="#68B3DB"/><rect x="1246.95" y="524.11" width="16.28" height="27.99" fill="#87CEF2"/><rect x="1246.95" y="524.11" width="16.28" height=".6" fill="#7DBFE1"/><rect x="565.5" y="552.8" width="104.7" height="31.9" fill="#B9FAF7" stroke="#ACE8E5" stroke-width=".6"/><rect x="795.5" y="552.8" width="142.2" height="31.9" fill="#7AF3EE" stroke="#71E1DD" stroke-width=".6"/><rect x="938.3" y="552.8" width="108.4" height="31.9" fill="#87CEF2" stroke="#7DBFE1" stroke-width=".6"/><rect x="1047.3" y="552.8" width="119.4" height="31.9" fill="#70C1EC" stroke="#68B3DB" stroke-width=".6"/><rect x="1166.8" y="567.31" width="16.28" height="17.29" fill="#87CEF2"/><rect x="1166.8" y="567.31" width="16.28" height=".6" fill="#7DBFE1"/><rect x="1182.83" y="553.5" width="16.28" height="31.1" fill="#70C1EC"/><rect x="1182.83" y="553.5" width="16.28" height=".6" fill="#68B3DB"/><rect x="1198.86" y="553.81" width="16.28" height="30.79" fill="#70C1EC"/><rect x="1198.86" y="553.81" width="16.28" height=".6" fill="#68B3DB"/><rect x="1214.89" y="553.81" width="16.28" height="30.79" fill="#70C1EC"/><rect x="1214.89" y="553.81" width="16.28" height=".6" fill="#68B3DB"/><rect x="1230.92" y="553.5" width="16.28" height="31.1" fill="#70C1EC"/><rect x="1230.92" y="553.5" width="16.28" height=".6" fill="#68B3DB"/><rect x="1246.95" y="554.74" width="16.28" height="29.86" fill="#70C1EC"/><rect x="1246.95" y="554.74" width="16.28" height=".6" fill="#68B3DB"/><rect x="565.5" y="585.3" width="104.7" height="31.9" fill="#B9FAF7" stroke="#ACE8E5" stroke-width=".6"/><rect x="795.5" y="585.3" width="142.2" height="31.9" fill="#7AF3EE" stroke="#71E1DD" stroke-width=".6"/><rect x="938.3" y="585.3" width="108.4" height="31.9" fill="#70C1EC" stroke="#68B3DB" stroke-width=".6"/><rect x="1047.3" y="585.3" width="119.4" height="31.9" fill="#70C1EC" stroke="#68B3DB" stroke-width=".6"/><rect x="1166.8" y="597.2" width="16.28" height="19.9" fill="#87CEF2"/><rect x="1166.8" y="597.2" width="16.28" height=".6" fill="#7DBFE1"/><rect x="1182.83" y="586" width="16.28" height="31.1" fill="#70C1EC"/><rect x="1182.83" y="586" width="16.28" height=".6" fill="#68B3DB"/><rect x="1198.86" y="586" width="16.28" height="31.1" fill="#70C1EC"/><rect x="1198.86" y="586" width="16.28" height=".6" fill="#68B3DB"/><rect x="1214.89" y="586" width="16.28" height="31.1" fill="#70C1EC"/><rect x="1214.89" y="586" width="16.28" height=".6" fill="#68B3DB"/><rect x="1230.92" y="586" width="16.28" height="31.1" fill="#70C1EC"/><rect x="1230.92" y="586" width="16.28" height=".6" fill="#68B3DB"/><rect x="1246.95" y="586.62" width="16.28" height="30.48" fill="#70C1EC"/><rect x="1246.95" y="586.62" width="16.28" height=".6" fill="#68B3DB"/><rect x="565.5" y="617.8" width="104.7" height="31.9" fill="#7AF3EE" stroke="#71E1DD" stroke-width=".6"/><rect x="795.5" y="617.8" width="142.2" height="31.9" fill="#50D1D9" stroke="#4AC2C9" stroke-width=".6"/><rect x="938.3" y="617.8" width="108.4" height="31.9" fill="#87CEF2" stroke="#7DBFE1" stroke-width=".6"/><rect x="1047.3" y="617.8" width="119.4" height="31.9" fill="#5BB7EA" stroke="#54AAD9" stroke-width=".6"/><rect x="1182.83" y="643.69" width="16.28" height="5.91" fill="#9AD5F5"/><rect x="1182.83" y="643.69" width="16.28" height=".6" fill="#8FC6E3"/><rect x="1198.86" y="618.5" width="16.28" height="31.1" fill="#5BB7EA"/><rect x="1198.86" y="618.5" width="16.28" height=".6" fill="#54AAD9"/><rect x="1214.89" y="622.85" width="16.28" height="26.75" fill="#5BB7EA"/><rect x="1214.89" y="622.85" width="16.28" height=".6" fill="#54AAD9"/><rect x="1230.92" y="628.76" width="16.28" height="20.84" fill="#70C1EC"/><rect x="1230.92" y="628.76" width="16.28" height=".6" fill="#68B3DB"/><rect x="1246.95" y="631.72" width="16.28" height="17.88" fill="#70C1EC"/><rect x="1246.95" y="631.72" width="16.28" height=".6" fill="#68B3DB"/><rect x="565.5" y="650.3" width="104.7" height="31.9" fill="#7AF3EE" stroke="#71E1DD" stroke-width=".6"/><rect x="795.5" y="650.3" width="142.2" height="31.9" fill="#50D1D9" stroke="#4AC2C9" stroke-width=".6"/><rect x="938.3" y="650.3" width="108.4" height="31.9" fill="#70C1EC" stroke="#68B3DB" stroke-width=".6"/><rect x="1047.3" y="650.3" width="119.4" height="31.9" fill="#5BB7EA" stroke="#54AAD9" stroke-width=".6"/><rect x="1182.83" y="663.13" width="16.28" height="18.97" fill="#70C1EC"/><rect x="1182.83" y="663.13" width="16.28" height=".6" fill="#68B3DB"/><rect x="1198.86" y="655.82" width="16.28" height="26.28" fill="#5BB7EA"/><rect x="1198.86" y="655.82" width="16.28" height=".6" fill="#54AAD9"/><rect x="1214.89" y="651" width="16.28" height="31.1" fill="#5BB7EA"/><rect x="1214.89" y="651" width="16.28" height=".6" fill="#54AAD9"/><rect x="1230.92" y="663.13" width="16.28" height="18.97" fill="#70C1EC"/><rect x="1230.92" y="663.13" width="16.28" height=".6" fill="#68B3DB"/><rect x="1246.95" y="663.13" width="16.28" height="18.97" fill="#70C1EC"/><rect x="1246.95" y="663.13" width="16.28" height=".6" fill="#68B3DB"/><rect x="565.5" y="682.8" width="104.7" height="31.9" fill="#7AF3EE" stroke="#71E1DD" stroke-width=".6"/><rect x="795.5" y="682.8" width="142.2" height="31.9" fill="#50D1D9" stroke="#4AC2C9" stroke-width=".6"/><rect x="938.3" y="682.8" width="108.4" height="31.9" fill="#70C1EC" stroke="#68B3DB" stroke-width=".6"/><rect x="1047.3" y="682.8" width="119.4" height="31.9" fill="#5BB7EA" stroke="#54AAD9" stroke-width=".6"/><rect x="1182.83" y="704.03" width="16.28" height="10.57" fill="#87CEF2"/><rect x="1182.83" y="704.03" width="16.28" height=".6" fill="#7DBFE1"/><rect x="1198.86" y="686.08" width="16.28" height="28.52" fill="#5BB7EA"/><rect x="1198.86" y="686.08" width="16.28" height=".6" fill="#54AAD9"/><rect x="1214.89" y="683.5" width="16.28" height="31.1" fill="#5BB7EA"/><rect x="1214.89" y="683.5" width="16.28" height=".6" fill="#54AAD9"/><rect x="1230.92" y="697.28" width="16.28" height="17.32" fill="#70C1EC"/><rect x="1230.92" y="697.28" width="16.28" height=".6" fill="#68B3DB"/><rect x="1246.95" y="699.17" width="16.28" height="15.43" fill="#87CEF2"/><rect x="1246.95" y="699.17" width="16.28" height=".6" fill="#7DBFE1"/><rect x="565.5" y="715.3" width="104.7" height="31.9" fill="#7AF3EE" stroke="#71E1DD" stroke-width=".6"/><rect x="795.5" y="715.3" width="142.2" height="31.9" fill="#63E4E7" stroke="#5CD4D6" stroke-width=".6"/><rect x="938.3" y="715.3" width="108.4" height="31.9" fill="#87CEF2" stroke="#7DBFE1" stroke-width=".6"/><rect x="1047.3" y="715.3" width="119.4" height="31.9" fill="#70C1EC" stroke="#68B3DB" stroke-width=".6"/><rect x="1166.8" y="729.37" width="16.28" height="17.73" fill="#87CEF2"/><rect x="1166.8" y="729.37" width="16.28" height=".6" fill="#7DBFE1"/><rect x="1182.83" y="718.02" width="16.28" height="29.08" fill="#70C1EC"/><rect x="1182.83" y="718.02" width="16.28" height=".6" fill="#68B3DB"/><rect x="1198.86" y="716" width="16.28" height="31.1" fill="#70C1EC"/><rect x="1198.86" y="716" width="16.28" height=".6" fill="#68B3DB"/><rect x="1214.89" y="720.98" width="16.28" height="26.12" fill="#87CEF2"/><rect x="1214.89" y="720.98" width="16.28" height=".6" fill="#7DBFE1"/><rect x="1230.92" y="729.37" width="16.28" height="17.73" fill="#87CEF2"/><rect x="1230.92" y="729.37" width="16.28" height=".6" fill="#7DBFE1"/><rect x="1246.95" y="729.22" width="16.28" height="17.88" fill="#87CEF2"/><rect x="1246.95" y="729.22" width="16.28" height=".6" fill="#7DBFE1"/><rect x="565.5" y="747.8" width="104.7" height="31.9" fill="#B9FAF7" stroke="#ACE8E5" stroke-width=".6"/><rect x="795.5" y="747.8" width="142.2" height="31.9" fill="#63E4E7" stroke="#5CD4D6" stroke-width=".6"/><rect x="938.3" y="747.8" width="108.4" height="31.9" fill="#9AD5F5" stroke="#8FC6E3" stroke-width=".6"/><rect x="1047.3" y="747.8" width="119.4" height="31.9" fill="#87CEF2" stroke="#7DBFE1" stroke-width=".6"/><rect x="1166.8" y="770.27" width="16.28" height="9.33" fill="#9AD5F5"/><rect x="1166.8" y="770.27" width="16.28" height=".6" fill="#8FC6E3"/><rect x="1182.83" y="755.03" width="16.28" height="24.57" fill="#87CEF2"/><rect x="1182.83" y="755.03" width="16.28" height=".6" fill="#7DBFE1"/><rect x="1198.86" y="754.72" width="16.28" height="24.88" fill="#87CEF2"/><rect x="1198.86" y="754.72" width="16.28" height=".6" fill="#7DBFE1"/><rect x="1214.89" y="755.03" width="16.28" height="24.57" fill="#87CEF2"/><rect x="1214.89" y="755.03" width="16.28" height=".6" fill="#7DBFE1"/><rect x="1230.92" y="763.21" width="16.28" height="16.39" fill="#9AD5F5"/><rect x="1230.92" y="763.21" width="16.28" height=".6" fill="#8FC6E3"/><rect x="1246.95" y="765.11" width="16.28" height="14.49" fill="#9AD5F5"/><rect x="1246.95" y="765.11" width="16.28" height=".6" fill="#8FC6E3"/><rect x="565.5" y="780.3" width="104.7" height="31.9" fill="#63E4E7" stroke="#5CD4D6" stroke-width=".6"/><rect x="795.5" y="780.3" width="142.2" height="31.9" fill="#35B9CC" stroke="#31ACBD" stroke-width=".6"/><rect x="938.3" y="780.3" width="108.4" height="31.9" fill="#AFE0F9" stroke="#A2D0E7" stroke-width=".6"/><rect x="1047.3" y="780.3" width="119.4" height="31.9" fill="#AFE0F9" stroke="#A2D0E7" stroke-width=".6"/><rect x="1182.83" y="810.55" width="16.28" height="1.56" fill="#DCF3FE"/><rect x="1182.83" y="810.55" width="16.28" height=".6" fill="#CCE1EC"/><rect x="1198.86" y="804.76" width="16.28" height="7.34" fill="#AFE0F9"/><rect x="1198.86" y="804.76" width="16.28" height=".6" fill="#A2D0E7"/><rect x="1214.89" y="805.88" width="16.28" height="6.22" fill="#AFE0F9"/><rect x="1214.89" y="805.88" width="16.28" height=".6" fill="#A2D0E7"/><rect x="1230.92" y="805.26" width="16.28" height="6.84" fill="#AFE0F9"/><rect x="1230.92" y="805.26" width="16.28" height=".6" fill="#A2D0E7"/><rect x="1246.95" y="809.61" width="16.28" height="2.49" fill="#DCF3FE"/><rect x="1246.95" y="809.61" width="16.28" height=".6" fill="#CCE1EC"/><rect x="565.5" y="812.8" width="104.7" height="31.9" fill="#7AF3EE" stroke="#71E1DD" stroke-width=".6"/><rect x="795.5" y="812.8" width="142.2" height="31.9" fill="#35B9CC" stroke="#31ACBD" stroke-width=".6"/><rect x="938.3" y="812.8" width="108.4" height="31.9" fill="#AFE0F9" stroke="#A2D0E7" stroke-width=".6"/><rect x="1047.3" y="812.8" width="119.4" height="31.9" fill="#9AD5F5" stroke="#8FC6E3" stroke-width=".6"/><rect x="1182.83" y="842.27" width="16.28" height="2.33" fill="#DCF3FE"/><rect x="1182.83" y="842.27" width="16.28" height=".6" fill="#CCE1EC"/><rect x="1198.86" y="838.07" width="16.28" height="6.53" fill="#AFE0F9"/><rect x="1198.86" y="838.07" width="16.28" height=".6" fill="#A2D0E7"/><rect x="1214.89" y="836.2" width="16.28" height="8.4" fill="#9AD5F5"/><rect x="1214.89" y="836.2" width="16.28" height=".6" fill="#8FC6E3"/><rect x="1230.92" y="835.58" width="16.28" height="9.02" fill="#9AD5F5"/><rect x="1230.92" y="835.58" width="16.28" height=".6" fill="#8FC6E3"/><rect x="1246.95" y="839.31" width="16.28" height="5.29" fill="#AFE0F9"/><rect x="1246.95" y="839.31" width="16.28" height=".6" fill="#A2D0E7"/><rect x="565.5" y="845.3" width="104.7" height="31.9" fill="#7AF3EE" stroke="#71E1DD" stroke-width=".6"/><rect x="795.5" y="845.3" width="142.2" height="31.9" fill="#35B9CC" stroke="#31ACBD" stroke-width=".6"/><rect x="938.3" y="845.3" width="108.4" height="31.9" fill="#9AD5F5" stroke="#8FC6E3" stroke-width=".6"/><rect x="1047.3" y="845.3" width="119.4" height="31.9" fill="#9AD5F5" stroke="#8FC6E3" stroke-width=".6"/><rect x="1182.83" y="871.19" width="16.28" height="5.91" fill="#AFE0F9"/><rect x="1182.83" y="871.19" width="16.28" height=".6" fill="#A2D0E7"/><rect x="1198.86" y="866.68" width="16.28" height="10.42" fill="#9AD5F5"/><rect x="1198.86" y="866.68" width="16.28" height=".6" fill="#8FC6E3"/><rect x="1214.89" y="865.75" width="16.28" height="11.35" fill="#9AD5F5"/><rect x="1214.89" y="865.75" width="16.28" height=".6" fill="#8FC6E3"/><rect x="1230.92" y="866.06" width="16.28" height="11.04" fill="#9AD5F5"/><rect x="1230.92" y="866.06" width="16.28" height=".6" fill="#8FC6E3"/><rect x="1246.95" y="866.68" width="16.28" height="10.42" fill="#9AD5F5"/><rect x="1246.95" y="866.68" width="16.28" height=".6" fill="#8FC6E3"/><rect x="565.5" y="877.8" width="104.7" height="31.9" fill="#7AF3EE" stroke="#71E1DD" stroke-width=".6"/><rect x="795.5" y="877.8" width="142.2" height="31.9" fill="#35B9CC" stroke="#31ACBD" stroke-width=".6"/><rect x="938.3" y="877.8" width="108.4" height="31.9" fill="#AFE0F9" stroke="#A2D0E7" stroke-width=".6"/><rect x="1047.3" y="877.8" width="119.4" height="31.9" fill="#AFE0F9" stroke="#A2D0E7" stroke-width=".6"/><rect x="1182.83" y="908.36" width="16.28" height="1.24" fill="#DCF3FE"/><rect x="1182.83" y="908.36" width="16.28" height=".6" fill="#CCE1EC"/><rect x="1198.86" y="903.07" width="16.28" height="6.53" fill="#AFE0F9"/><rect x="1198.86" y="903.07" width="16.28" height=".6" fill="#A2D0E7"/><rect x="1214.89" y="902.14" width="16.28" height="7.46" fill="#AFE0F9"/><rect x="1214.89" y="902.14" width="16.28" height=".6" fill="#A2D0E7"/><rect x="1230.92" y="903.07" width="16.28" height="6.53" fill="#AFE0F9"/><rect x="1230.92" y="903.07" width="16.28" height=".6" fill="#A2D0E7"/><rect x="1246.95" y="905.25" width="16.28" height="4.35" fill="#AFE0F9"/><rect x="1246.95" y="905.25" width="16.28" height=".6" fill="#A2D0E7"/><rect x="565.5" y="910.3" width="104.7" height="31.9" fill="#63E4E7" stroke="#5CD4D6" stroke-width=".6"/><rect x="795.5" y="910.3" width="142.2" height="31.9" fill="#1B9DB8" stroke="#1992AB" stroke-width=".6"/><rect x="938.3" y="910.3" width="108.4" height="31.9" fill="#DCF3FE" stroke="#CCE1EC" stroke-width=".6"/><rect x="1047.3" y="910.3" width="119.4" height="31.9" fill="#AFE0F9" stroke="#A2D0E7" stroke-width=".6"/><rect x="1198.86" y="939.92" width="16.28" height="2.18" fill="#DCF3FE"/><rect x="1198.86" y="939.92" width="16.28" height=".6" fill="#CCE1EC"/><rect x="1214.89" y="936.66" width="16.28" height="5.44" fill="#AFE0F9"/><rect x="1214.89" y="936.66" width="16.28" height=".6" fill="#A2D0E7"/><rect x="1230.92" y="936.66" width="16.28" height="5.44" fill="#AFE0F9"/><rect x="1230.92" y="936.66" width="16.28" height=".6" fill="#A2D0E7"/><rect x="1246.95" y="941.48" width="16.28" height="0.62" fill="#DCF3FE"/><rect x="1246.95" y="941.48" width="16.28" height=".6" fill="#CCE1EC"/><rect x="565.5" y="942.8" width="104.7" height="31.9" fill="#B9FAF7" stroke="#ACE8E5" stroke-width=".6"/><rect x="795.5" y="942.8" width="142.2" height="31.9" fill="#63E4E7" stroke="#5CD4D6" stroke-width=".6"/><rect x="938.3" y="942.8" width="108.4" height="31.9" fill="#9AD5F5" stroke="#8FC6E3" stroke-width=".6"/><rect x="1047.3" y="942.8" width="119.4" height="31.9" fill="#87CEF2" stroke="#7DBFE1" stroke-width=".6"/><rect x="1166.8" y="970.56" width="16.28" height="4.04" fill="#AFE0F9"/><rect x="1166.8" y="970.56" width="16.28" height=".6" fill="#A2D0E7"/><rect x="1182.83" y="966.08" width="16.28" height="8.52" fill="#9AD5F5"/><rect x="1182.83" y="966.08" width="16.28" height=".6" fill="#8FC6E3"/><rect x="1198.86" y="965.27" width="16.28" height="9.33" fill="#9AD5F5"/><rect x="1198.86" y="965.27" width="16.28" height=".6" fill="#8FC6E3"/><rect x="1214.89" y="951.59" width="16.28" height="23.01" fill="#9AD5F5"/><rect x="1214.89" y="951.59" width="16.28" height=".6" fill="#8FC6E3"/><rect x="1230.92" y="950.65" width="16.28" height="23.95" fill="#87CEF2"/><rect x="1230.92" y="950.65" width="16.28" height=".6" fill="#7DBFE1"/><rect x="1246.95" y="949.72" width="16.28" height="24.88" fill="#87CEF2"/><rect x="1246.95" y="949.72" width="16.28" height=".6" fill="#7DBFE1"/><rect x="565.5" y="975.3" width="104.7" height="31.9" fill="#63E4E7" stroke="#5CD4D6" stroke-width=".6"/><rect x="795.5" y="975.3" width="142.2" height="31.9" fill="#1B9DB8" stroke="#1992AB" stroke-width=".6"/><rect x="938.3" y="975.3" width="108.4" height="31.9" fill="#DCF3FE" stroke="#CCE1EC" stroke-width=".6"/><rect x="1047.3" y="975.3" width="119.4" height="31.9" fill="#AFE0F9" stroke="#A2D0E7" stroke-width=".6"/><rect x="1198.86" y="1004.3" width="16.28" height="2.8" fill="#DCF3FE"/><rect x="1198.86" y="1004.3" width="16.28" height=".6" fill="#CCE1EC"/><rect x="1214.89" y="1001.72" width="16.28" height="5.38" fill="#AFE0F9"/><rect x="1214.89" y="1001.72" width="16.28" height=".6" fill="#A2D0E7"/><rect x="1230.92" y="1002.44" width="16.28" height="4.67" fill="#AFE0F9"/><rect x="1230.92" y="1002.44" width="16.28" height=".6" fill="#A2D0E7"/><rect x="565.5" y="1007.8" width="104.7" height="31.9" fill="#63E4E7" stroke="#5CD4D6" stroke-width=".6"/><rect x="795.5" y="1007.8" width="142.2" height="31.9" fill="#1B9DB8" stroke="#1992AB" stroke-width=".6"/><rect x="938.3" y="1007.8" width="108.4" height="31.9" fill="#DCF3FE" stroke="#CCE1EC" stroke-width=".6"/><rect x="1047.3" y="1007.8" width="119.4" height="31.9" fill="#AFE0F9" stroke="#A2D0E7" stroke-width=".6"/><rect x="1198.86" y="1035.25" width="16.28" height="4.35" fill="#AFE0F9"/><rect x="1198.86" y="1035.25" width="16.28" height=".6" fill="#A2D0E7"/><rect x="1214.89" y="1034.19" width="16.28" height="5.41" fill="#AFE0F9"/><rect x="1214.89" y="1034.19" width="16.28" height=".6" fill="#A2D0E7"/><rect x="1230.92" y="1034.19" width="16.28" height="5.41" fill="#AFE0F9"/><rect x="1230.92" y="1034.19" width="16.28" height=".6" fill="#A2D0E7"/><rect x="1246.95" y="1038.98" width="16.28" height="0.62" fill="#DCF3FE"/><rect x="1246.95" y="1038.98" width="16.28" height=".6" fill="#CCE1EC"/><rect x="565.5" y="1040.3" width="104.7" height="31.9" fill="#7AF3EE" stroke="#71E1DD" stroke-width=".6"/><rect x="795.5" y="1040.3" width="142.2" height="31.9" fill="#1B9DB8" stroke="#1992AB" stroke-width=".6"/><rect x="938.3" y="1040.3" width="108.4" height="31.9" fill="#AFE0F9" stroke="#A2D0E7" stroke-width=".6"/><rect x="1047.3" y="1040.3" width="119.4" height="31.9" fill="#9AD5F5" stroke="#8FC6E3" stroke-width=".6"/><rect x="1182.83" y="1071.01" width="16.28" height="1.09" fill="#DCF3FE"/><rect x="1182.83" y="1071.01" width="16.28" height=".6" fill="#CCE1EC"/><rect x="1198.86" y="1067.75" width="16.28" height="4.35" fill="#AFE0F9"/><rect x="1198.86" y="1067.75" width="16.28" height=".6" fill="#A2D0E7"/><rect x="1214.89" y="1063.45" width="16.28" height="8.65" fill="#9AD5F5"/><rect x="1214.89" y="1063.45" width="16.28" height=".6" fill="#8FC6E3"/><rect x="1230.92" y="1064.79" width="16.28" height="7.31" fill="#AFE0F9"/><rect x="1230.92" y="1064.79" width="16.28" height=".6" fill="#A2D0E7"/><rect x="1246.95" y="1068.06" width="16.28" height="4.04" fill="#AFE0F9"/><rect x="1246.95" y="1068.06" width="16.28" height=".6" fill="#A2D0E7"/><rect x="565.5" y="1072.8" width="104.7" height="31.9" fill="#7AF3EE" stroke="#71E1DD" stroke-width=".6"/><rect x="795.5" y="1072.8" width="142.2" height="31.9" fill="#1B9DB8" stroke="#1992AB" stroke-width=".6"/><rect x="938.3" y="1072.8" width="108.4" height="31.9" fill="#AFE0F9" stroke="#A2D0E7" stroke-width=".6"/><rect x="1047.3" y="1072.8" width="119.4" height="31.9" fill="#AFE0F9" stroke="#A2D0E7" stroke-width=".6"/><rect x="1182.83" y="1103.04" width="16.28" height="1.56" fill="#DCF3FE"/><rect x="1182.83" y="1103.04" width="16.28" height=".6" fill="#CCE1EC"/><rect x="1198.86" y="1097.76" width="16.28" height="6.84" fill="#AFE0F9"/><rect x="1198.86" y="1097.76" width="16.28" height=".6" fill="#A2D0E7"/><rect x="1214.89" y="1096.86" width="16.28" height="7.74" fill="#AFE0F9"/><rect x="1214.89" y="1096.86" width="16.28" height=".6" fill="#A2D0E7"/><rect x="1230.92" y="1097.76" width="16.28" height="6.84" fill="#AFE0F9"/><rect x="1230.92" y="1097.76" width="16.28" height=".6" fill="#A2D0E7"/><rect x="1246.95" y="1100.56" width="16.28" height="4.04" fill="#AFE0F9"/><rect x="1246.95" y="1100.56" width="16.28" height=".6" fill="#A2D0E7"/><rect x="565.5" y="1105.3" width="104.7" height="31.9" fill="#7AF3EE" stroke="#71E1DD" stroke-width=".6"/><rect x="795.5" y="1105.3" width="142.2" height="31.9" fill="#1B9DB8" stroke="#1992AB" stroke-width=".6"/><rect x="938.3" y="1105.3" width="108.4" height="31.9" fill="#DCF3FE" stroke="#CCE1EC" stroke-width=".6"/><rect x="1047.3" y="1105.3" width="119.4" height="31.9" fill="#AFE0F9" stroke="#A2D0E7" stroke-width=".6"/><rect x="1182.83" y="1136.63" width="16.28" height="0.47" fill="#DCF3FE"/><rect x="1182.83" y="1136.63" width="16.28" height=".6" fill="#CCE1EC"/><rect x="1198.86" y="1134.92" width="16.28" height="2.18" fill="#DCF3FE"/><rect x="1198.86" y="1134.92" width="16.28" height=".6" fill="#CCE1EC"/><rect x="1230.92" y="1131.5" width="16.28" height="5.6" fill="#AFE0F9"/><rect x="1230.92" y="1131.5" width="16.28" height=".6" fill="#A2D0E7"/><rect x="1246.95" y="1134.92" width="16.28" height="2.18" fill="#DCF3FE"/><rect x="1246.95" y="1134.92" width="16.28" height=".6" fill="#CCE1EC"/><rect x="565.5" y="1137.8" width="104.7" height="31.9" fill="#7AF3EE" stroke="#71E1DD" stroke-width=".6"/><rect x="795.5" y="1137.8" width="142.2" height="31.9" fill="#35B9CC" stroke="#31ACBD" stroke-width=".6"/><rect x="938.3" y="1137.8" width="108.4" height="31.9" fill="#AFE0F9" stroke="#A2D0E7" stroke-width=".6"/><rect x="1047.3" y="1137.8" width="119.4" height="31.9" fill="#9AD5F5" stroke="#8FC6E3" stroke-width=".6"/><rect x="1182.83" y="1165.56" width="16.28" height="4.04" fill="#AFE0F9"/><rect x="1182.83" y="1165.56" width="16.28" height=".6" fill="#A2D0E7"/><rect x="1198.86" y="1162.76" width="16.28" height="6.84" fill="#AFE0F9"/><rect x="1198.86" y="1162.76" width="16.28" height=".6" fill="#A2D0E7"/><rect x="1214.89" y="1158.09" width="16.28" height="11.51" fill="#9AD5F5"/><rect x="1214.89" y="1158.09" width="16.28" height=".6" fill="#8FC6E3"/><rect x="1230.92" y="1157.47" width="16.28" height="12.13" fill="#9AD5F5"/><rect x="1230.92" y="1157.47" width="16.28" height=".6" fill="#8FC6E3"/><rect x="1246.95" y="1163.38" width="16.28" height="6.22" fill="#AFE0F9"/><rect x="1246.95" y="1163.38" width="16.28" height=".6" fill="#A2D0E7"/><rect x="565.5" y="1170.3" width="104.7" height="31.9" fill="#7AF3EE" stroke="#71E1DD" stroke-width=".6"/><rect x="795.5" y="1170.3" width="142.2" height="31.9" fill="#1B9DB8" stroke="#1992AB" stroke-width=".6"/><rect x="938.3" y="1170.3" width="108.4" height="31.9" fill="#AFE0F9" stroke="#A2D0E7" stroke-width=".6"/><rect x="1047.3" y="1170.3" width="119.4" height="31.9" fill="#AFE0F9" stroke="#A2D0E7" stroke-width=".6"/><rect x="1182.83" y="1200.08" width="16.28" height="2.02" fill="#DCF3FE"/><rect x="1182.83" y="1200.08" width="16.28" height=".6" fill="#CCE1EC"/><rect x="1198.86" y="1194.82" width="16.28" height="7.28" fill="#AFE0F9"/><rect x="1198.86" y="1194.82" width="16.28" height=".6" fill="#A2D0E7"/><rect x="1214.89" y="1195.57" width="16.28" height="6.53" fill="#AFE0F9"/><rect x="1214.89" y="1195.57" width="16.28" height=".6" fill="#A2D0E7"/><rect x="1230.92" y="1194.82" width="16.28" height="7.28" fill="#AFE0F9"/><rect x="1230.92" y="1194.82" width="16.28" height=".6" fill="#A2D0E7"/><rect x="1246.95" y="1196.81" width="16.28" height="5.29" fill="#AFE0F9"/><rect x="1246.95" y="1196.81" width="16.28" height=".6" fill="#A2D0E7"/><rect x="565.5" y="1202.8" width="104.7" height="31.9" fill="#7AF3EE" stroke="#71E1DD" stroke-width=".6"/><rect x="795.5" y="1202.8" width="142.2" height="31.9" fill="#50D1D9" stroke="#4AC2C9" stroke-width=".6"/><rect x="938.3" y="1202.8" width="108.4" height="31.9" fill="#AFE0F9" stroke="#A2D0E7" stroke-width=".6"/><rect x="1047.3" y="1202.8" width="119.4" height="31.9" fill="#9AD5F5" stroke="#8FC6E3" stroke-width=".6"/><rect x="1166.8" y="1232.11" width="16.28" height="2.49" fill="#DCF3FE"/><rect x="1166.8" y="1232.11" width="16.28" height=".6" fill="#CCE1EC"/><rect x="1182.83" y="1225.58" width="16.28" height="9.02" fill="#9AD5F5"/><rect x="1182.83" y="1225.58" width="16.28" height=".6" fill="#8FC6E3"/><rect x="1198.86" y="1226.98" width="16.28" height="7.62" fill="#AFE0F9"/><rect x="1198.86" y="1226.98" width="16.28" height=".6" fill="#A2D0E7"/><rect x="1214.89" y="1227.76" width="16.28" height="6.84" fill="#AFE0F9"/><rect x="1214.89" y="1227.76" width="16.28" height=".6" fill="#A2D0E7"/><rect x="1230.92" y="1226.98" width="16.28" height="7.62" fill="#AFE0F9"/><rect x="1230.92" y="1226.98" width="16.28" height=".6" fill="#A2D0E7"/><rect x="1246.95" y="1226.76" width="16.28" height="7.84" fill="#9AD5F5"/><rect x="1246.95" y="1226.76" width="16.28" height=".6" fill="#8FC6E3"/><rect x="565.5" y="1235.3" width="104.7" height="31.9" fill="#7AF3EE" stroke="#71E1DD" stroke-width=".6"/><rect x="795.5" y="1235.3" width="142.2" height="31.9" fill="#50D1D9" stroke="#4AC2C9" stroke-width=".6"/><rect x="938.3" y="1235.3" width="108.4" height="31.9" fill="#9AD5F5" stroke="#8FC6E3" stroke-width=".6"/><rect x="1047.3" y="1235.3" width="119.4" height="31.9" fill="#9AD5F5" stroke="#8FC6E3" stroke-width=".6"/><rect x="1182.83" y="1263.06" width="16.28" height="4.04" fill="#AFE0F9"/><rect x="1182.83" y="1263.06" width="16.28" height=".6" fill="#A2D0E7"/><rect x="1198.86" y="1253.42" width="16.28" height="13.68" fill="#9AD5F5"/><rect x="1198.86" y="1253.42" width="16.28" height=".6" fill="#8FC6E3"/><rect x="1214.89" y="1252.17" width="16.28" height="14.93" fill="#9AD5F5"/><rect x="1214.89" y="1252.17" width="16.28" height=".6" fill="#8FC6E3"/><rect x="1230.92" y="1253.42" width="16.28" height="13.68" fill="#9AD5F5"/><rect x="1230.92" y="1253.42" width="16.28" height=".6" fill="#8FC6E3"/><rect x="1246.95" y="1258.08" width="16.28" height="9.02" fill="#9AD5F5"/><rect x="1246.95" y="1258.08" width="16.28" height=".6" fill="#8FC6E3"/><rect x="565.5" y="1267.8" width="104.7" height="31.9" fill="#63E4E7" stroke="#5CD4D6" stroke-width=".6"/><rect x="795.5" y="1267.8" width="142.2" height="31.9" fill="#1B9DB8" stroke="#1992AB" stroke-width=".6"/><rect x="938.3" y="1267.8" width="108.4" height="31.9" fill="#DCF3FE" stroke="#CCE1EC" stroke-width=".6"/><rect x="1047.3" y="1267.8" width="119.4" height="31.9" fill="#AFE0F9" stroke="#A2D0E7" stroke-width=".6"/><rect x="1198.86" y="1297.58" width="16.28" height="2.02" fill="#DCF3FE"/><rect x="1198.86" y="1297.58" width="16.28" height=".6" fill="#CCE1EC"/><rect x="1214.89" y="1294.41" width="16.28" height="5.19" fill="#AFE0F9"/><rect x="1214.89" y="1294.41" width="16.28" height=".6" fill="#A2D0E7"/><rect x="1230.92" y="1294.41" width="16.28" height="5.19" fill="#AFE0F9"/><rect x="1230.92" y="1294.41" width="16.28" height=".6" fill="#A2D0E7"/><rect x="565.5" y="1300.3" width="104.7" height="31.9" fill="#7AF3EE" stroke="#71E1DD" stroke-width=".6"/><rect x="795.5" y="1300.3" width="142.2" height="31.9" fill="#35B9CC" stroke="#31ACBD" stroke-width=".6"/><rect x="938.3" y="1300.3" width="108.4" height="31.9" fill="#AFE0F9" stroke="#A2D0E7" stroke-width=".6"/><rect x="1047.3" y="1300.3" width="119.4" height="31.9" fill="#9AD5F5" stroke="#8FC6E3" stroke-width=".6"/><rect x="1182.83" y="1324.64" width="16.28" height="7.46" fill="#AFE0F9"/><rect x="1182.83" y="1324.64" width="16.28" height=".6" fill="#A2D0E7"/><rect x="1198.86" y="1322.46" width="16.28" height="9.64" fill="#9AD5F5"/><rect x="1198.86" y="1322.46" width="16.28" height=".6" fill="#8FC6E3"/><rect x="1214.89" y="1321.53" width="16.28" height="10.57" fill="#9AD5F5"/><rect x="1214.89" y="1321.53" width="16.28" height=".6" fill="#8FC6E3"/><rect x="1230.92" y="1322.46" width="16.28" height="9.64" fill="#9AD5F5"/><rect x="1230.92" y="1322.46" width="16.28" height=".6" fill="#8FC6E3"/><rect x="1246.95" y="1324.95" width="16.28" height="7.15" fill="#AFE0F9"/><rect x="1246.95" y="1324.95" width="16.28" height=".6" fill="#A2D0E7"/><rect x="565.5" y="1332.8" width="104.7" height="31.9" fill="#7AF3EE" stroke="#71E1DD" stroke-width=".6"/><rect x="795.5" y="1332.8" width="142.2" height="31.9" fill="#1B9DB8" stroke="#1992AB" stroke-width=".6"/><rect x="938.3" y="1332.8" width="108.4" height="31.9" fill="#AFE0F9" stroke="#A2D0E7" stroke-width=".6"/><rect x="1047.3" y="1332.8" width="119.4" height="31.9" fill="#AFE0F9" stroke="#A2D0E7" stroke-width=".6"/><rect x="1182.83" y="1364.13" width="16.28" height="0.47" fill="#DCF3FE"/><rect x="1182.83" y="1364.13" width="16.28" height=".6" fill="#CCE1EC"/><rect x="1198.86" y="1358.07" width="16.28" height="6.53" fill="#AFE0F9"/><rect x="1198.86" y="1358.07" width="16.28" height=".6" fill="#A2D0E7"/><rect x="1214.89" y="1358.07" width="16.28" height="6.53" fill="#AFE0F9"/><rect x="1214.89" y="1358.07" width="16.28" height=".6" fill="#A2D0E7"/><rect x="1230.92" y="1358.07" width="16.28" height="6.53" fill="#AFE0F9"/><rect x="1230.92" y="1358.07" width="16.28" height=".6" fill="#A2D0E7"/><rect x="1246.95" y="1363.04" width="16.28" height="1.56" fill="#DCF3FE"/><rect x="1246.95" y="1363.04" width="16.28" height=".6" fill="#CCE1EC"/><rect x="565.5" y="1365.3" width="104.7" height="31.9" fill="#7AF3EE" stroke="#71E1DD" stroke-width=".6"/><rect x="795.5" y="1365.3" width="142.2" height="31.9" fill="#1B9DB8" stroke="#1992AB" stroke-width=".6"/><rect x="938.3" y="1365.3" width="108.4" height="31.9" fill="#AFE0F9" stroke="#A2D0E7" stroke-width=".6"/><rect x="1047.3" y="1365.3" width="119.4" height="31.9" fill="#9AD5F5" stroke="#8FC6E3" stroke-width=".6"/><rect x="1182.83" y="1393.06" width="16.28" height="4.04" fill="#AFE0F9"/><rect x="1182.83" y="1393.06" width="16.28" height=".6" fill="#A2D0E7"/><rect x="1198.86" y="1388.39" width="16.28" height="8.71" fill="#9AD5F5"/><rect x="1198.86" y="1388.39" width="16.28" height=".6" fill="#8FC6E3"/><rect x="1214.89" y="1389.64" width="16.28" height="7.46" fill="#AFE0F9"/><rect x="1214.89" y="1389.64" width="16.28" height=".6" fill="#A2D0E7"/><rect x="1230.92" y="1388.7" width="16.28" height="8.4" fill="#9AD5F5"/><rect x="1230.92" y="1388.7" width="16.28" height=".6" fill="#8FC6E3"/><rect x="1246.95" y="1391.81" width="16.28" height="5.29" fill="#AFE0F9"/><rect x="1246.95" y="1391.81" width="16.28" height=".6" fill="#A2D0E7"/><rect x="565.5" y="1397.8" width="104.7" height="31.9" fill="#B9FAF7" stroke="#ACE8E5" stroke-width=".6"/><rect x="795.5" y="1397.8" width="142.2" height="31.9" fill="#35B9CC" stroke="#31ACBD" stroke-width=".6"/><rect x="938.3" y="1397.8" width="108.4" height="31.9" fill="#AFE0F9" stroke="#A2D0E7" stroke-width=".6"/><rect x="1047.3" y="1397.8" width="119.4" height="31.9" fill="#AFE0F9" stroke="#A2D0E7" stroke-width=".6"/><rect x="1166.8" y="1425.25" width="16.28" height="4.35" fill="#AFE0F9"/><rect x="1166.8" y="1425.25" width="16.28" height=".6" fill="#A2D0E7"/><rect x="1182.83" y="1421.86" width="16.28" height="7.74" fill="#AFE0F9"/><rect x="1182.83" y="1421.86" width="16.28" height=".6" fill="#A2D0E7"/><rect x="1198.86" y="1422.45" width="16.28" height="7.15" fill="#AFE0F9"/><rect x="1198.86" y="1422.45" width="16.28" height=".6" fill="#A2D0E7"/><rect x="1214.89" y="1422.45" width="16.28" height="7.15" fill="#AFE0F9"/><rect x="1214.89" y="1422.45" width="16.28" height=".6" fill="#A2D0E7"/><rect x="1230.92" y="1422.45" width="16.28" height="7.15" fill="#AFE0F9"/><rect x="1230.92" y="1422.45" width="16.28" height=".6" fill="#A2D0E7"/><rect x="1246.95" y="1422.45" width="16.28" height="7.15" fill="#AFE0F9"/><rect x="1246.95" y="1422.45" width="16.28" height=".6" fill="#A2D0E7"/><rect x="565.5" y="1430.3" width="104.7" height="31.9" fill="#7AF3EE" stroke="#71E1DD" stroke-width=".6"/><rect x="795.5" y="1430.3" width="142.2" height="31.9" fill="#50D1D9" stroke="#4AC2C9" stroke-width=".6"/><rect x="938.3" y="1430.3" width="108.4" height="31.9" fill="#DCF3FE" stroke="#CCE1EC" stroke-width=".6"/><rect x="1047.3" y="1430.3" width="119.4" height="31.9" fill="#DCF3FE" stroke="#CCE1EC" stroke-width=".6"/><rect x="1198.86" y="1461.48" width="16.28" height="0.62" fill="#DCF3FE"/><rect x="1198.86" y="1461.48" width="16.28" height=".6" fill="#CCE1EC"/><rect x="1214.89" y="1461.01" width="16.28" height="1.09" fill="#DCF3FE"/><rect x="1214.89" y="1461.01" width="16.28" height=".6" fill="#CCE1EC"/><rect x="1230.92" y="1460.7" width="16.28" height="1.4" fill="#DCF3FE"/><rect x="1230.92" y="1460.7" width="16.28" height=".6" fill="#CCE1EC"/><rect x="565.5" y="1462.8" width="104.7" height="31.9" fill="#B9FAF7" stroke="#ACE8E5" stroke-width=".6"/><rect x="795.5" y="1462.8" width="142.2" height="31.9" fill="#7AF3EE" stroke="#71E1DD" stroke-width=".6"/><rect x="938.3" y="1462.8" width="108.4" height="31.9" fill="#DCF3FE" stroke="#CCE1EC" stroke-width=".6"/><rect x="1047.3" y="1462.8" width="119.4" height="31.9" fill="#DCF3FE" stroke="#CCE1EC" stroke-width=".6"/><rect x="1182.83" y="1493.36" width="16.28" height="1.24" fill="#DCF3FE"/><rect x="1182.83" y="1493.36" width="16.28" height=".6" fill="#CCE1EC"/><rect x="1198.86" y="1493.36" width="16.28" height="1.24" fill="#DCF3FE"/><rect x="1198.86" y="1493.36" width="16.28" height=".6" fill="#CCE1EC"/><rect x="1214.89" y="1493.36" width="16.28" height="1.24" fill="#DCF3FE"/><rect x="1214.89" y="1493.36" width="16.28" height=".6" fill="#CCE1EC"/><rect x="1230.92" y="1492.73" width="16.28" height="1.87" fill="#DCF3FE"/><rect x="1230.92" y="1492.73" width="16.28" height=".6" fill="#CCE1EC"/><rect x="1246.95" y="1492.73" width="16.28" height="1.87" fill="#DCF3FE"/><rect x="1246.95" y="1492.73" width="16.28" height=".6" fill="#CCE1EC"/><rect x="565.5" y="1495.3" width="104.7" height="31.9" fill="#7AF3EE" stroke="#71E1DD" stroke-width=".6"/><rect x="795.5" y="1495.3" width="142.2" height="31.9" fill="#50D1D9" stroke="#4AC2C9" stroke-width=".6"/><rect x="938.3" y="1495.3" width="108.4" height="31.9" fill="#AFE0F9" stroke="#A2D0E7" stroke-width=".6"/><rect x="1047.3" y="1495.3" width="119.4" height="31.9" fill="#9AD5F5" stroke="#8FC6E3" stroke-width=".6"/><rect x="1182.83" y="1518.39" width="16.28" height="8.71" fill="#9AD5F5"/><rect x="1182.83" y="1518.39" width="16.28" height=".6" fill="#8FC6E3"/><rect x="1198.86" y="1519.64" width="16.28" height="7.46" fill="#AFE0F9"/><rect x="1198.86" y="1519.64" width="16.28" height=".6" fill="#A2D0E7"/><rect x="1214.89" y="1519.64" width="16.28" height="7.46" fill="#AFE0F9"/><rect x="1214.89" y="1519.64" width="16.28" height=".6" fill="#A2D0E7"/><rect x="1230.92" y="1519.64" width="16.28" height="7.46" fill="#AFE0F9"/><rect x="1230.92" y="1519.64" width="16.28" height=".6" fill="#A2D0E7"/><rect x="1246.95" y="1519.64" width="16.28" height="7.46" fill="#AFE0F9"/><rect x="1246.95" y="1519.64" width="16.28" height=".6" fill="#A2D0E7"/><rect x="565.5" y="1527.8" width="104.7" height="31.9" fill="#B9FAF7" stroke="#ACE8E5" stroke-width=".6"/><rect x="795.5" y="1527.8" width="142.2" height="31.9" fill="#7AF3EE" stroke="#71E1DD" stroke-width=".6"/><rect x="938.3" y="1527.8" width="108.4" height="31.9" fill="#AFE0F9" stroke="#A2D0E7" stroke-width=".6"/><rect x="1047.3" y="1527.8" width="119.4" height="31.9" fill="#AFE0F9" stroke="#A2D0E7" stroke-width=".6"/><rect x="1166.8" y="1555.56" width="16.28" height="4.04" fill="#AFE0F9"/><rect x="1166.8" y="1555.56" width="16.28" height=".6" fill="#A2D0E7"/><rect x="1182.83" y="1553.07" width="16.28" height="6.53" fill="#AFE0F9"/><rect x="1182.83" y="1553.07" width="16.28" height=".6" fill="#A2D0E7"/><rect x="1198.86" y="1552.2" width="16.28" height="7.4" fill="#AFE0F9"/><rect x="1198.86" y="1552.2" width="16.28" height=".6" fill="#A2D0E7"/><rect x="1214.89" y="1552.2" width="16.28" height="7.4" fill="#AFE0F9"/><rect x="1214.89" y="1552.2" width="16.28" height=".6" fill="#A2D0E7"/><rect x="1230.92" y="1552.2" width="16.28" height="7.4" fill="#AFE0F9"/><rect x="1230.92" y="1552.2" width="16.28" height=".6" fill="#A2D0E7"/><rect x="1246.95" y="1552.2" width="16.28" height="7.4" fill="#AFE0F9"/><rect x="1246.95" y="1552.2" width="16.28" height=".6" fill="#A2D0E7"/><rect x="565.5" y="1560.3" width="104.7" height="31.9" fill="#F3F2F0" stroke="#F3F2F0" stroke-width=".6"/><rect x="795.5" y="1560.3" width="142.2" height="31.9" fill="#F3F2F0" stroke="#F3F2F0" stroke-width=".6"/><rect x="938.3" y="1560.3" width="108.4" height="31.9" fill="#F3F2F0" stroke="#F3F2F0" stroke-width=".6"/><rect x="1047.3" y="1560.3" width="119.4" height="31.9" fill="#F3F2F0" stroke="#F3F2F0" stroke-width=".6"/><rect x="565.5" y="1592.8" width="104.7" height="31.9" fill="#F3F2F0" stroke="#F3F2F0" stroke-width=".6"/><rect x="795.5" y="1592.8" width="142.2" height="31.9" fill="#F3F2F0" stroke="#F3F2F0" stroke-width=".6"/><rect x="938.3" y="1592.8" width="108.4" height="31.9" fill="#F3F2F0" stroke="#F3F2F0" stroke-width=".6"/><rect x="1047.3" y="1592.8" width="119.4" height="31.9" fill="#F3F2F0" stroke="#F3F2F0" stroke-width=".6"/><rect x="565.5" y="1625.3" width="104.7" height="31.9" fill="#F3F2F0" stroke="#F3F2F0" stroke-width=".6"/><rect x="795.5" y="1625.3" width="142.2" height="31.9" fill="#F3F2F0" stroke="#F3F2F0" stroke-width=".6"/><rect x="938.3" y="1625.3" width="108.4" height="31.9" fill="#F3F2F0" stroke="#F3F2F0" stroke-width=".6"/><rect x="1047.3" y="1625.3" width="119.4" height="31.9" fill="#F3F2F0" stroke="#F3F2F0" stroke-width=".6"/><rect x="565.5" y="1657.8" width="104.7" height="31.9" fill="#F3F2F0" stroke="#F3F2F0" stroke-width=".6"/><rect x="795.5" y="1657.8" width="142.2" height="31.9" fill="#F3F2F0" stroke="#F3F2F0" stroke-width=".6"/><rect x="938.3" y="1657.8" width="108.4" height="31.9" fill="#F3F2F0" stroke="#F3F2F0" stroke-width=".6"/><rect x="1047.3" y="1657.8" width="119.4" height="31.9" fill="#F3F2F0" stroke="#F3F2F0" stroke-width=".6"/><rect x="565.5" y="1690.3" width="104.7" height="31.9" fill="#F3F2F0" stroke="#F3F2F0" stroke-width=".6"/><rect x="795.5" y="1690.3" width="142.2" height="31.9" fill="#F3F2F0" stroke="#F3F2F0" stroke-width=".6"/><rect x="938.3" y="1690.3" width="108.4" height="31.9" fill="#F3F2F0" stroke="#F3F2F0" stroke-width=".6"/><rect x="1047.3" y="1690.3" width="119.4" height="31.9" fill="#F3F2F0" stroke="#F3F2F0" stroke-width=".6"/><rect y="32" width="1479" height="1" fill="#E5E5E5"/><rect y="64.4" width="1479" height="1.5" fill="#E0E0E0"/><rect y="96.9" width="1479" height="1.5" fill="#DFDFDF"/><rect y="129.4" width="1479" height="1.5" fill="#DFDFDF"/><rect y="161.9" width="1479" height="1.5" fill="#DFDFDF"/><rect y="194.4" width="1479" height="1.5" fill="#DFDFDF"/><rect y="226.9" width="1479" height="1.5" fill="#DFDFDF"/><rect y="259.4" width="1479" height="1.5" fill="#DFDFDF"/><rect y="291.9" width="1479" height="1.5" fill="#DFDFDF"/><rect y="324.4" width="1479" height="1.5" fill="#DFDFDF"/><rect y="356.9" width="1479" height="1.5" fill="#DFDFDF"/><rect y="389.4" width="1479" height="1.5" fill="#DFDFDF"/><rect y="421.9" width="1479" height="1.5" fill="#DFDFDF"/><rect y="454.4" width="1479" height="1.5" fill="#DFDFDF"/><rect y="486.9" width="1479" height="1.5" fill="#DFDFDF"/><rect y="519.4" width="1479" height="1.5" fill="#DFDFDF"/><rect y="551.9" width="1479" height="1.5" fill="#DFDFDF"/><rect y="584.4" width="1479" height="1.5" fill="#DFDFDF"/><rect y="616.9" width="1479" height="1.5" fill="#DFDFDF"/><rect y="649.4" width="1479" height="1.5" fill="#DFDFDF"/><rect y="681.9" width="1479" height="1.5" fill="#DFDFDF"/><rect y="714.4" width="1479" height="1.5" fill="#DFDFDF"/><rect y="746.9" width="1479" height="1.5" fill="#DFDFDF"/><rect y="779.4" width="1479" height="1.5" fill="#DFDFDF"/><rect y="811.9" width="1479" height="1.5" fill="#DFDFDF"/><rect y="844.4" width="1479" height="1.5" fill="#DFDFDF"/><rect y="876.9" width="1479" height="1.5" fill="#DFDFDF"/><rect y="909.4" width="1479" height="1.5" fill="#DFDFDF"/><rect y="941.9" width="1479" height="1.5" fill="#DFDFDF"/><rect y="974.4" width="1479" height="1.5" fill="#DFDFDF"/><rect y="1006.9" width="1479" height="1.5" fill="#DFDFDF"/><rect y="1039.4" width="1479" height="1.5" fill="#DFDFDF"/><rect y="1071.9" width="1479" height="1.5" fill="#DFDFDF"/><rect y="1104.4" width="1479" height="1.5" fill="#DFDFDF"/><rect y="1136.9" width="1479" height="1.5" fill="#DFDFDF"/><rect y="1169.4" width="1479" height="1.5" fill="#DFDFDF"/><rect y="1201.9" width="1479" height="1.5" fill="#DFDFDF"/><rect y="1234.4" width="1479" height="1.5" fill="#DFDFDF"/><rect y="1266.9" width="1479" height="1.5" fill="#DFDFDF"/><rect y="1299.4" width="1479" height="1.5" fill="#DFDFDF"/><rect y="1331.9" width="1479" height="1.5" fill="#DFDFDF"/><rect y="1364.4" width="1479" height="1.5" fill="#DFDFDF"/><rect y="1396.9" width="1479" height="1.5" fill="#DFDFDF"/><rect y="1429.4" width="1479" height="1.5" fill="#DFDFDF"/><rect y="1461.9" width="1479" height="1.5" fill="#DFDFDF"/><rect y="1494.4" width="1479" height="1.5" fill="#DFDFDF"/><rect y="1526.9" width="1479" height="1.5" fill="#DFDFDF"/><rect y="1559.4" width="1479" height="1.5" fill="#DFDFDF"/><rect y="1591.9" width="1479" height="1.5" fill="#DFDFDF"/><rect y="1624.4" width="1479" height="1.5" fill="#DFDFDF"/><rect y="1656.9" width="1479" height="1.5" fill="#DFDFDF"/><rect y="1689.4" width="1479" height="1.5" fill="#DFDFDF"/><rect y="1721.9" width="1479" height="1.5" fill="#DFDFDF"/><rect x="476.35" y="65" width="1.3" height="1657.5" fill="#E9E9E9"/><rect x="564.55" y="65" width="1.3" height="1657.5" fill="#E9E9E9"/><rect x="669.85" y="65" width="1.3" height="1657.5" fill="#E9E9E9"/><rect x="794.55" y="65" width="1.3" height="1657.5" fill="#E9E9E9"/><rect x="937.35" y="65" width="1.3" height="1657.5" fill="#E9E9E9"/><rect x="1046.35" y="65" width="1.3" height="1657.5" fill="#E9E9E9"/><rect x="1166.35" y="65" width="1.3" height="1657.5" fill="#E9E9E9"/><rect x="1262.55" y="65" width="1.3" height="1657.5" fill="#E9E9E9"/><rect x="1167.7" y="96.9" width="94.9" height="1.5" fill="#F4EEEC"/><rect x="1167.7" y="129.4" width="94.9" height="1.5" fill="#F4EEEC"/><rect x="1167.7" y="161.9" width="94.9" height="1.5" fill="#F4EEEC"/><rect x="1167.7" y="194.4" width="94.9" height="1.5" fill="#F4EEEC"/><rect x="1167.7" y="226.9" width="94.9" height="1.5" fill="#F4EEEC"/><rect x="1167.7" y="259.4" width="94.9" height="1.5" fill="#F4EEEC"/><rect x="1167.7" y="291.9" width="94.9" height="1.5" fill="#F4EEEC"/><rect x="1167.7" y="324.4" width="94.9" height="1.5" fill="#F4EEEC"/><rect x="1167.7" y="356.9" width="94.9" height="1.5" fill="#F4EEEC"/><rect x="1167.7" y="389.4" width="94.9" height="1.5" fill="#F4EEEC"/><rect x="1167.7" y="421.9" width="94.9" height="1.5" fill="#F4EEEC"/><rect x="1167.7" y="454.4" width="94.9" height="1.5" fill="#F4EEEC"/><rect x="1167.7" y="486.9" width="94.9" height="1.5" fill="#F4EEEC"/><rect x="1167.7" y="519.4" width="94.9" height="1.5" fill="#F4EEEC"/><rect x="1167.7" y="551.9" width="94.9" height="1.5" fill="#F4EEEC"/><rect x="1167.7" y="584.4" width="94.9" height="1.5" fill="#F4EEEC"/><rect x="1167.7" y="616.9" width="94.9" height="1.5" fill="#F4EEEC"/><rect x="1167.7" y="649.4" width="94.9" height="1.5" fill="#F4EEEC"/><rect x="1167.7" y="681.9" width="94.9" height="1.5" fill="#F4EEEC"/><rect x="1167.7" y="714.4" width="94.9" height="1.5" fill="#F4EEEC"/><rect x="1167.7" y="746.9" width="94.9" height="1.5" fill="#F4EEEC"/><rect x="1167.7" y="779.4" width="94.9" height="1.5" fill="#F4EEEC"/><rect x="1167.7" y="811.9" width="94.9" height="1.5" fill="#F4EEEC"/><rect x="1167.7" y="844.4" width="94.9" height="1.5" fill="#F4EEEC"/><rect x="1167.7" y="876.9" width="94.9" height="1.5" fill="#F4EEEC"/><rect x="1167.7" y="909.4" width="94.9" height="1.5" fill="#F4EEEC"/><rect x="1167.7" y="941.9" width="94.9" height="1.5" fill="#F4EEEC"/><rect x="1167.7" y="974.4" width="94.9" height="1.5" fill="#F4EEEC"/><rect x="1167.7" y="1006.9" width="94.9" height="1.5" fill="#F4EEEC"/><rect x="1167.7" y="1039.4" width="94.9" height="1.5" fill="#F4EEEC"/><rect x="1167.7" y="1071.9" width="94.9" height="1.5" fill="#F4EEEC"/><rect x="1167.7" y="1104.4" width="94.9" height="1.5" fill="#F4EEEC"/><rect x="1167.7" y="1136.9" width="94.9" height="1.5" fill="#F4EEEC"/><rect x="1167.7" y="1169.4" width="94.9" height="1.5" fill="#F4EEEC"/><rect x="1167.7" y="1201.9" width="94.9" height="1.5" fill="#F4EEEC"/><rect x="1167.7" y="1234.4" width="94.9" height="1.5" fill="#F4EEEC"/><rect x="1167.7" y="1266.9" width="94.9" height="1.5" fill="#F4EEEC"/><rect x="1167.7" y="1299.4" width="94.9" height="1.5" fill="#F4EEEC"/><rect x="1167.7" y="1331.9" width="94.9" height="1.5" fill="#F4EEEC"/><rect x="1167.7" y="1364.4" width="94.9" height="1.5" fill="#F4EEEC"/><rect x="1167.7" y="1396.9" width="94.9" height="1.5" fill="#F4EEEC"/><rect x="1167.7" y="1429.4" width="94.9" height="1.5" fill="#F4EEEC"/><rect x="1167.7" y="1461.9" width="94.9" height="1.5" fill="#F4EEEC"/><rect x="1167.7" y="1494.4" width="94.9" height="1.5" fill="#F4EEEC"/><rect x="1167.7" y="1526.9" width="94.9" height="1.5" fill="#F4EEEC"/><rect x="1167.7" y="1559.4" width="94.9" height="1.5" fill="#F4EEEC"/><rect x="1167.7" y="1591.9" width="94.9" height="1.5" fill="#F4EEEC"/><rect x="1167.7" y="1624.4" width="94.9" height="1.5" fill="#F4EEEC"/><rect x="1167.7" y="1656.9" width="94.9" height="1.5" fill="#F4EEEC"/><rect x="1167.7" y="1689.4" width="94.9" height="1.5" fill="#F4EEEC"/><rect x="1167.7" y="1721.9" width="94.9" height="1.5" fill="#F4EEEC"/><use href="#e-house" x="75.88" y="137.55" width="18" height="18"/><use href="#e-link" x="74.62" y="168.8" width="20.5" height="20.5"/><use href="#e-smile" x="75.38" y="202.05" width="19" height="19"/><use href="#f-HK" x="75.4" y="237.15" width="19" height="13.8"/><use href="#f-HK" x="75.4" y="269.65" width="19" height="13.8"/><use href="#f-HK" x="75.4" y="302.15" width="19" height="13.8"/><use href="#f-CN" x="75.4" y="334.65" width="19" height="13.8"/><use href="#f-CN" x="75.4" y="367.15" width="19" height="13.8"/><use href="#f-CN" x="75.4" y="399.65" width="19" height="13.8"/><use href="#f-SG" x="75.4" y="432.15" width="19" height="13.8"/><use href="#f-SG" x="75.4" y="464.65" width="19" height="13.8"/><use href="#f-SG" x="75.4" y="497.15" width="19" height="13.8"/><use href="#f-JP" x="75.4" y="529.65" width="19" height="13.8"/><use href="#f-JP" x="75.4" y="562.15" width="19" height="13.8"/><use href="#f-JP" x="75.4" y="594.65" width="19" height="13.8"/><use href="#f-US" x="75.4" y="627.15" width="19" height="13.8"/><use href="#f-US" x="75.4" y="659.65" width="19" height="13.8"/><use href="#f-US" x="75.4" y="692.15" width="19" height="13.8"/><use href="#f-KR" x="75.4" y="724.65" width="19" height="13.8"/><use href="#f-IN" x="75.4" y="757.15" width="19" height="13.8"/><use href="#f-DE" x="75.4" y="789.65" width="19" height="13.8"/><use href="#f-FR" x="75.4" y="822.15" width="19" height="13.8"/><use href="#f-GB" x="75.4" y="854.65" width="19" height="13.8"/><use href="#f-NL" x="75.4" y="887.15" width="19" height="13.8"/><use href="#f-IT" x="75.4" y="919.65" width="19" height="13.8"/><use href="#f-IN" x="75.4" y="952.15" width="19" height="13.8"/><use href="#f-CL" x="75.4" y="984.65" width="19" height="13.8"/><use href="#f-BR" x="75.4" y="1017.15" width="19" height="13.8"/><use href="#f-ES" x="75.4" y="1049.65" width="19" height="13.8"/><use href="#f-CH" x="75.4" y="1082.15" width="19" height="13.8"/><use href="#f-SE" x="75.4" y="1114.65" width="19" height="13.8"/><use href="#f-MX" x="75.4" y="1147.15" width="19" height="13.8"/><use href="#f-CA" x="75.4" y="1179.65" width="19" height="13.8"/><use href="#f-AU" x="75.4" y="1212.15" width="19" height="13.8"/><use href="#f-AE" x="75.4" y="1244.65" width="19" height="13.8"/><use href="#f-ZA" x="75.4" y="1277.15" width="19" height="13.8"/><use href="#f-SA" x="75.4" y="1309.65" width="19" height="13.8"/><use href="#f-CO" x="75.4" y="1342.15" width="19" height="13.8"/><use href="#f-IL" x="75.4" y="1374.65" width="19" height="13.8"/><use href="#f-VN" x="75.4" y="1407.15" width="19" height="13.8"/><use href="#f-TH" x="75.4" y="1439.65" width="19" height="13.8"/><use href="#f-MY" x="75.4" y="1472.15" width="19" height="13.8"/><use href="#f-RU" x="75.4" y="1504.65" width="19" height="13.8"/><use href="#f-PH" x="75.4" y="1537.15" width="19" height="13.8"/><use href="#f-HK" x="75.4" y="1569.65" width="19" height="13.8"/><use href="#f-CN" x="75.4" y="1602.15" width="19" height="13.8"/><use href="#f-SG" x="75.4" y="1634.65" width="19" height="13.8"/><use href="#f-JP" x="75.4" y="1667.15" width="19" height="13.8"/><use href="#f-US" x="75.4" y="1699.65" width="19" height="13.8"/><use href="#e-dna" x="4.9" y="1762.7" width="19.3" height="19.3"/><use href="#e-clock" x="4.9" y="1793.6" width="19" height="19"/></svg>
<div class="wm" style="top:55px">_hts_ UID:6946996027</div>
<div class="wm" style="top:103.4px">_hts_ UID:6946996027</div>
<div class="wm" style="top:151.8px">_hts_ UID:6946996027</div>
<div class="wm" style="top:200.2px">_hts_ UID:6946996027</div>
<div class="wm" style="top:248.6px">_hts_ UID:6946996027</div>
<div class="wm" style="top:297px">_hts_ UID:6946996027</div>
<div class="wm" style="top:345.4px">_hts_ UID:6946996027</div>
<div class="wm" style="top:393.8px">_hts_ UID:6946996027</div>
<div class="wm" style="top:442.2px">_hts_ UID:6946996027</div>
<div class="wm" style="top:490.6px">_hts_ UID:6946996027</div>
<div class="wm" style="top:539px">_hts_ UID:6946996027</div>
<div class="wm" style="top:587.4px">_hts_ UID:6946996027</div>
<div class="wm" style="top:635.8px">_hts_ UID:6946996027</div>
<div class="wm" style="top:684.2px">_hts_ UID:6946996027</div>
<div class="wm" style="top:732.6px">_hts_ UID:6946996027</div>
<div class="wm" style="top:781px">_hts_ UID:6946996027</div>
<div class="wm" style="top:829.4px">_hts_ UID:6946996027</div>
<div class="wm" style="top:877.8px">_hts_ UID:6946996027</div>
<div class="wm" style="top:926.2px">_hts_ UID:6946996027</div>
<div class="wm" style="top:974.6px">_hts_ UID:6946996027</div>
<div class="wm" style="top:1023px">_hts_ UID:6946996027</div>
<div class="wm" style="top:1071.4px">_hts_ UID:6946996027</div>
<div class="wm" style="top:1119.8px">_hts_ UID:6946996027</div>
<div class="wm" style="top:1168.2px">_hts_ UID:6946996027</div>
<div class="wm" style="top:1216.6px">_hts_ UID:6946996027</div>
<div class="wm" style="top:1265px">_hts_ UID:6946996027</div>
<div class="wm" style="top:1313.4px">_hts_ UID:6946996027</div>
<div class="wm" style="top:1361.8px">_hts_ UID:6946996027</div>
<div class="wm" style="top:1410.2px">_hts_ UID:6946996027</div>
<div class="wm" style="top:1458.6px">_hts_ UID:6946996027</div>
<div class="wm" style="top:1507px">_hts_ UID:6946996027</div>
<div class="wm" style="top:1555.4px">_hts_ UID:6946996027</div>
<div class="wm" style="top:1603.8px">_hts_ UID:6946996027</div>
<div class="wm" style="top:1652.2px">_hts_ UID:6946996027</div>
<div class="wm" style="top:1700.6px">_hts_ UID:6946996027</div>
<div class="wm" style="top:1749px">_hts_ UID:6946996027</div>
<div class="wm" style="top:1797.4px">_hts_ UID:6946996027</div>
<div class="t">海豚测速 @haitunspeed - 速度测试 | ID-27d5482e</div>
<div class="r hd" style="top:32.5px"><span class="c0">序号</span><span class="h1">节点名称</span><span class="c2">类型</span><span class="c3">延迟RTT</span><span class="c4">RTT标准差</span><span class="c5">HTTP延迟</span><span class="c6">平均速度</span><span class="c7">最大速度</span><span class="c8">每秒速度</span><span class="c9">UDP类型</span></div>
<div class="r" style="top:65px"><span class="c0 l">1</span><span class="c1">剩余流量：601.56 GB</span><span class="c2 l">Trojan</span><span class="c3 l">72ms</span><span class="c4 l">5.5</span><span class="c5 l">185ms</span><span class="c6 l">75.90MB</span><span class="c7 l">100.21MB</span><span class="c9 l">FullCone</span></div>
<div class="r" style="top:97.5px"><span class="c0 l">2</span><span class="c1">套餐到期：长期有效</span><span class="c2 l">Trojan</span><span class="c3 l">77ms</span><span class="c4 l">10.6</span><span class="c5 l">181ms</span><span class="c6 l">76.39MB</span><span class="c7 l">107.08MB</span><span class="c9 l">FullCone</span></div>
<div class="r" style="top:130px"><span class="c0 l">3</span><span class="c1i">官网：<i class="la">hongxingdl.club</i></span><span class="c2 l">Trojan</span><span class="c3 l">72ms</span><span class="c4 l">8.7</span><span class="c5 l">199ms</span><span class="c6 l">75.39MB</span><span class="c7 l">101.52MB</span><span class="c9 l">FullCone</span></div>
<div class="r" style="top:162.5px"><span class="c0 l">4</span><span class="c1i">节点异常请刷新订阅</span><span class="c2 l">Trojan</span><span class="c3 l">72ms</span><span class="c4 l">22.9</span><span class="c5 l">190ms</span><span class="c6 l">75.85MB</span><span class="c7 l">103.28MB</span><span class="c9 l">FullCone</span></div>
<div class="r" style="top:195px"><span class="c0 l">5</span><span class="c1s">刷新失败请官网重置(需重登账号)</span><span class="c2 l">Trojan</span><span class="c3 l">76ms</span><span class="c4 l">25.7</span><span class="c5 l">170ms</span><span class="c6 l">75.62MB</span><span class="c7 l">110.62MB</span><span class="c9 l">FullCone</span></div>
<div class="r" style="top:227.5px"><span class="c0 l">6</span><span class="c1i">香港1</span><span class="c2 l">Trojan</span><span class="c3 l">77ms</span><span class="c4 l">6.2</span><span class="c5 l">178ms</span><span class="c6 l">74.71MB</span><span class="c7 l">92.12MB</span><span class="c9 l">FullCone</span></div>
<div class="r" style="top:260px"><span class="c0 l">7</span><span class="c1i">香港2</span><span class="c2 l">Trojan</span><span class="c3 l">73ms</span><span class="c4 l">3.6</span><span class="c5 l">176ms</span><span class="c6 l">75.75MB</span><span class="c7 l">99.21MB</span><span class="c9 l">FullCone</span></div>
<div class="r" style="top:292.5px"><span class="c0 l">8</span><span class="c1i">香港3</span><span class="c2 l">Trojan</span><span class="c3 l">73ms</span><span class="c4 l">4.6</span><span class="c5 l">181ms</span><span class="c6 l">75.72MB</span><span class="c7 l">103.26MB</span><span class="c9 l">FullCone</span></div>
<div class="r" style="top:325px"><span class="c0 l">9</span><span class="c1i">台湾1</span><span class="c2 l">Trojan</span><span class="c3 l">86ms</span><span class="c4 l">6.1</span><span class="c5 l">217ms</span><span class="c6 l">75.59MB</span><span class="c7 l">108.90MB</span><span class="c9 l">FullCone</span></div>
<div class="r" style="top:357.5px"><span class="c0 l">10</span><span class="c1i">台湾2</span><span class="c2 l">Trojan</span><span class="c3 l">81ms</span><span class="c4 l">4.6</span><span class="c5 l">206ms</span><span class="c6 l">28.26MB</span><span class="c7 l">111.55MB</span><span class="c9 l">FullCone</span></div>
<div class="r" style="top:390px"><span class="c0 l">11</span><span class="c1i">台湾3</span><span class="c2 l">Trojan</span><span class="c3 l">90ms</span><span class="c4 l">38.4</span><span class="c5 l">213ms</span><span class="c6 l">75.92MB</span><span class="c7 l">101.16MB</span><span class="c9 l">FullCone</span></div>
<div class="r" style="top:422.5px"><span class="c0 l">12</span><span class="c1i">新加坡1</span><span class="c2 l">Trojan</span><span class="c3 l">107ms</span><span class="c4 l">2.5</span><span class="c5 l">280ms</span><span class="c6 l">73.70MB</span><span class="c7 l">97.33MB</span><span class="c9 l">FullCone</span></div>
<div class="r" style="top:455px"><span class="c0 l">13</span><span class="c1i">新加坡2</span><span class="c2 l">Trojan</span><span class="c3 l">107ms</span><span class="c4 l">3.3</span><span class="c5 l">280ms</span><span class="c6 l">69.63MB</span><span class="c7 l">84.78MB</span><span class="c9 l">FullCone</span></div>
<div class="r" style="top:487.5px"><span class="c0 l">14</span><span class="c1i">新加坡3</span><span class="c2 l">Trojan</span><span class="c3 l">108ms</span><span class="c4 l">3.8</span><span class="c5 l">288ms</span><span class="c6 l">68.94MB</span><span class="c7 l">80.06MB</span><span class="c9 l">FullCone</span></div>
<div class="r" style="top:520px"><span class="c0 l">15</span><span class="c1i">日本1</span><span class="c2 l">Trojan</span><span class="c3 l">125ms</span><span class="c4 l">12.5</span><span class="c5 l">326ms</span><span class="c6 l">61.18MB</span><span class="c7 l">67.96MB</span><span class="c9 l">FullCone</span></div>
<div class="r" style="top:552.5px"><span class="c0 l">16</span><span class="c1i">日本2</span><span class="c2 l">Trojan</span><span class="c3 l">121ms</span><span class="c4 l">3.2</span><span class="c5 l">346ms</span><span class="c6 l">62.48MB</span><span class="c7 l">69.55MB</span><span class="c9 l">FullCone</span></div>
<div class="r" style="top:585px"><span class="c0 l">17</span><span class="c1i">日本3</span><span class="c2 l">Trojan</span><span class="c3 l">121ms</span><span class="c4 l">3.3</span><span class="c5 l">326ms</span><span class="c6 l">69.56MB</span><span class="c7 l">75.46MB</span><span class="c9 l">FullCone</span></div>
<div class="r" style="top:617.5px"><span class="c0 l">18</span><span class="c1i">美国1</span><span class="c2 l">Trojan</span><span class="c3 l">226ms</span><span class="c4 l">7.5</span><span class="c5 l">630ms</span><span class="c6 l">61.65MB</span><span class="c7 l">111.01MB</span><span class="c9 l">FullCone</span></div>
<div class="r" style="top:650px"><span class="c0 l">19</span><span class="c1i">美国2</span><span class="c2 l">Trojan</span><span class="c3 l">224ms</span><span class="c4 l">5.2</span><span class="c5 l">631ms</span><span class="c6 l">65.00MB</span><span class="c7 l">105.62MB</span><span class="c9 l">FullCone</span></div>
<div class="r" style="top:682.5px"><span class="c0 l">20</span><span class="c1i">美国3</span><span class="c2 l">Trojan</span><span class="c3 l">230ms</span><span class="c4 l">10.5</span><span class="c5 l">644ms</span><span class="c6 l">64.17MB</span><span class="c7 l">114.71MB</span><span class="c9 l">FullCone</span></div>
<div class="r" style="top:715px"><span class="c0 l">21</span><span class="c1i">韩国</span><span class="c2 l">Trojan</span><span class="c3 l">203ms</span><span class="c4 l">73.1</span><span class="c5 l">405ms</span><span class="c6 l">52.44MB</span><span class="c7 l">70.12MB</span><span class="c9 l">PortRestrictedCone</span></div>
<div class="r" style="top:747.5px"><span class="c0 l">22</span><span class="c1i">印度<i class="hy">-</i>孟买</span><span class="c2 l">Trojan</span><span class="c3 l">167ms</span><span class="c4 l">8.2</span><span class="c5 l">467ms</span><span class="c6 l">30.83MB</span><span class="c7 l">39.84MB</span><span class="c9 l">PortRestrictedCone</span></div>
<div class="r" style="top:780px"><span class="c0 l">23</span><span class="c1i">德国</span><span class="c2 l">Trojan</span><span class="c3 l">361ms</span><span class="c4 l">82.1</span><span class="c5 l">940ms</span><span class="c6 l">7.36MB</span><span class="c7 l">11.78MB</span><span class="c9 l">PortRestrictedCone</span></div>
<div class="r" style="top:812.5px"><span class="c0 l">24</span><span class="c1i">法国</span><span class="c2 l">Trojan</span><span class="c3 l">313ms</span><span class="c4 l">148.5</span><span class="c5 l">898ms</span><span class="c6 l">9.35MB</span><span class="c7 l">14.60MB</span><span class="c9 l">Unknown</span></div>
<div class="r" style="top:845px"><span class="c0 l">25</span><span class="c1i">英国</span><span class="c2 l">Trojan</span><span class="c3 l">276ms</span><span class="c4 l">2.9</span><span class="c5 l">788ms</span><span class="c6 l">13.24MB</span><span class="c7 l">18.23MB</span><span class="c9 l">PortRestrictedCone</span></div>
<div class="r" style="top:877.5px"><span class="c0 l">26</span><span class="c1i">荷兰</span><span class="c2 l">Trojan</span><span class="c3 l">333ms</span><span class="c4 l">105.3</span><span class="c5 l">953ms</span><span class="c6 l">7.75MB</span><span class="c7 l">11.99MB</span><span class="c9 l">PortRestrictedCone</span></div>
<div class="r" style="top:910px"><span class="c0 l">27</span><span class="c1i">意大利</span><span class="c2 l">Trojan</span><span class="c3 l">415ms</span><span class="c4 l">6.3</span><span class="c5 l">1632ms</span><span class="c6 l">4.58MB</span><span class="c7 l">8.73MB</span><span class="c9 l">PortRestrictedCone</span></div>
<div class="r" style="top:942.5px"><span class="c0 l">28</span><span class="c1i">印度<i class="hy">-</i>西部</span><span class="c2 l">Trojan</span><span class="c3 l">160ms</span><span class="c4 l">4</span><span class="c5 l">449ms</span><span class="c6 l">25.59MB</span><span class="c7 l">40.06MB</span><span class="c9 l">PortRestrictedCone</span></div>
<div class="r" style="top:975px"><span class="c0 l">29</span><span class="c1i">智利</span><span class="c2 l">Trojan</span><span class="c3 l">422ms</span><span class="c4 l">11.8</span><span class="c5 l">1262ms</span><span class="c6 l">4.11MB</span><span class="c7 l">8.65MB</span><span class="c9 l">PortRestrictedCone</span></div>
<div class="r" style="top:1007.5px"><span class="c0 l">30</span><span class="c1i">巴西</span><span class="c2 l">Trojan</span><span class="c3 l">390ms</span><span class="c4 l">4.5</span><span class="c5 l">1270ms</span><span class="c6 l">4.83MB</span><span class="c7 l">8.68MB</span><span class="c9 l">PortRestrictedCone</span></div>
<div class="r" style="top:1040px"><span class="c0 l">31</span><span class="c1i">西班牙</span><span class="c2 l">Trojan</span><span class="c3 l">348ms</span><span class="c4 l">3.1</span><span class="c5 l">1005ms</span><span class="c6 l">7.40MB</span><span class="c7 l">13.89MB</span><span class="c9 l">PortRestrictedCone</span></div>
<div class="r" style="top:1072.5px"><span class="c0 l">32</span><span class="c1i">瑞士</span><span class="c2 l">Trojan</span><span class="c3 l">338ms</span><span class="c4 l">3.2</span><span class="c5 l">1007ms</span><span class="c6 l">7.79MB</span><span class="c7 l">12.48MB</span><span class="c9 l">PortRestrictedCone</span></div>
<div class="r" style="top:1105px"><span class="c0 l">33</span><span class="c1i">瑞典</span><span class="c2 l">Trojan</span><span class="c3 l">348ms</span><span class="c4 l">7.7</span><span class="c5 l">1005ms</span><span class="c6 l">4.26MB</span><span class="c7 l">8.95MB</span><span class="c9 l">PortRestrictedCone</span></div>
<div class="r" style="top:1137.5px"><span class="c0 l">34</span><span class="c1i">墨西哥</span><span class="c2 l">Trojan</span><span class="c3 l">286ms</span><span class="c4 l">1.9</span><span class="c5 l">822ms</span><span class="c6 l">11.08MB</span><span class="c7 l">19.46MB</span><span class="c9 l">PortRestrictedCone</span></div>
<div class="r" style="top:1170px"><span class="c0 l">35</span><span class="c1i">加拿大</span><span class="c2 l">Trojan</span><span class="c3 l">330ms</span><span class="c4 l">7.6</span><span class="c5 l">1082ms</span><span class="c6 l">8.01MB</span><span class="c7 l">11.68MB</span><span class="c9 l">PortRestrictedCone</span></div>
<div class="r" style="top:1202.5px"><span class="c0 l">36</span><span class="c1i">澳大利亚</span><span class="c2 l">Trojan</span><span class="c3 l">194ms</span><span class="c4 l">4.6</span><span class="c5 l">539ms</span><span class="c6 l">11.76MB</span><span class="c7 l">14.55MB</span><span class="c9 l">PortRestrictedCone</span></div>
<div class="r" style="top:1235px"><span class="c0 l">37</span><span class="c1i">迪拜</span><span class="c2 l">Trojan</span><span class="c3 l">198ms</span><span class="c4 l">9.3</span><span class="c5 l">570ms</span><span class="c6 l">15.39MB</span><span class="c7 l">24.05MB</span><span class="c9 l">PortRestrictedCone</span></div>
<div class="r" style="top:1267.5px"><span class="c0 l">38</span><span class="c1i">南非</span><span class="c2 l">Trojan</span><span class="c3 l">421ms</span><span class="c4 l">3.7</span><span class="c5 l">1250ms</span><span class="c6 l">4.00MB</span><span class="c7 l">8.34MB</span><span class="c9 l">PortRestrictedCone</span></div>
<div class="r" style="top:1300px"><span class="c0 l">39</span><span class="c1i">沙特阿拉伯</span><span class="c2 l">Trojan</span><span class="c3 l">344ms</span><span class="c4 l">10.1</span><span class="c5 l">938ms</span><span class="c6 l">12.26MB</span><span class="c7 l">16.94MB</span><span class="c9 l">Unknown</span></div>
<div class="r" style="top:1332.5px"><span class="c0 l">40</span><span class="c1i">哥伦比亚</span><span class="c2 l">Trojan</span><span class="c3 l">347ms</span><span class="c4 l">4.1</span><span class="c5 l">1008ms</span><span class="c6 l">6.37MB</span><span class="c7 l">10.62MB</span><span class="c9 l">PortRestrictedCone</span></div>
<div class="r" style="top:1365px"><span class="c0 l">41</span><span class="c1i">以色列</span><span class="c2 l">Trojan</span><span class="c3 l">347ms</span><span class="c4 l">40.1</span><span class="c5 l">1002ms</span><span class="c6 l">9.26MB</span><span class="c7 l">14.07MB</span><span class="c9 l">PortRestrictedCone</span></div>
<div class="r" style="top:1397.5px"><span class="c0 l">42</span><span class="c1i">越南</span><span class="c2 l">Trojan</span><span class="c3 l">148ms</span><span class="c4 l">4.3</span><span class="c5 l">803ms</span><span class="c6 l">11.30MB</span><span class="c7 l">12.48MB</span><span class="c9 l">FullCone</span></div>
<div class="r" style="top:1430px"><span class="c0 l">43</span><span class="c1i">泰国</span><span class="c2 l">Trojan</span><span class="c3 l">279ms</span><span class="c4 l">171.5</span><span class="c5 l">589ms</span><span class="c6 l">2.35MB</span><span class="c7 l">4.39MB</span><span class="c9 l">FullCone</span></div>
<div class="r" style="top:1462.5px"><span class="c0 l">44</span><span class="c1i">马来西亚</span><span class="c2 l">Trojan</span><span class="c3 l">122ms</span><span class="c4 l">5.8</span><span class="c5 l">320ms</span><span class="c6 l">3.47MB</span><span class="c7 l">4.44MB</span><span class="c9 l">FullCone</span></div>
<div class="r" style="top:1495px"><span class="c0 l">45</span><span class="c1i">莫斯科</span><span class="c2 l">Trojan</span><span class="c3 l">234ms</span><span class="c4 l">3</span><span class="c5 l">647ms</span><span class="c6 l">10.52MB</span><span class="c7 l">13.97MB</span><span class="c9 l">FullCone</span></div>
<div class="r" style="top:1527.5px"><span class="c0 l">46</span><span class="c1i">菲律宾</span><span class="c2 l">Trojan</span><span class="c3 l">111ms</span><span class="c4 l">11.1</span><span class="c5 l">277ms</span><span class="c6 l">11.01MB</span><span class="c7 l">11.88MB</span><span class="c9 l">FullCone</span></div>
<div class="r" style="top:1560px"><span class="c0 l">47</span><span class="c1s">香港 IPV6</span><span class="c2 l">Trojan</span><span class="c3 l">0ms</span><span class="c4 l">0</span><span class="c5 l">0ms</span><span class="c6 l">0B</span><span class="c7 l">0B</span><span class="c9 l">Unknown</span></div>
<div class="r" style="top:1592.5px"><span class="c0 l">48</span><span class="c1i">台湾 IPV6</span><span class="c2 l">Trojan</span><span class="c3 l">0ms</span><span class="c4 l">0</span><span class="c5 l">0ms</span><span class="c6 l">0B</span><span class="c7 l">0B</span><span class="c9 l">Unknown</span></div>
<div class="r" style="top:1625px"><span class="c0 l">49</span><span class="c1i">新加坡 IPV6</span><span class="c2 l">Trojan</span><span class="c3 l">0ms</span><span class="c4 l">0</span><span class="c5 l">0ms</span><span class="c6 l">0B</span><span class="c7 l">0B</span><span class="c9 l">Unknown</span></div>
<div class="r" style="top:1657.5px"><span class="c0 l">50</span><span class="c1i">日本 IPV6</span><span class="c2 l">Trojan</span><span class="c3 l">0ms</span><span class="c4 l">0</span><span class="c5 l">0ms</span><span class="c6 l">0B</span><span class="c7 l">0B</span><span class="c9 l">Unknown</span></div>
<div class="r" style="top:1690px"><span class="c0 l">51</span><span class="c1i">美国 IPV6</span><span class="c2 l">Trojan</span><span class="c3 l">0ms</span><span class="c4 l">0</span><span class="c5 l">0ms</span><span class="c6 l">0B</span><span class="c7 l">0B</span><span class="c9 l">Unknown</span></div>
<div class="ft" style="top:1755px">版本=1.8.1  后端=       华北-北京联通 1Gb(4.5.4) 消耗流量=10.1GB  线程=1  排序=订阅原序  耗时=475s  Ping=9次  过滤器= &lt;-&gt;</div>
<div class="ft" style="top:1785.7px">测试时间: <span style="letter-spacing:.36px">2024-11-26T02:24:51 (CST)</span>  测试结果仅供参考，以实际情况为准</div>
</body></html>
